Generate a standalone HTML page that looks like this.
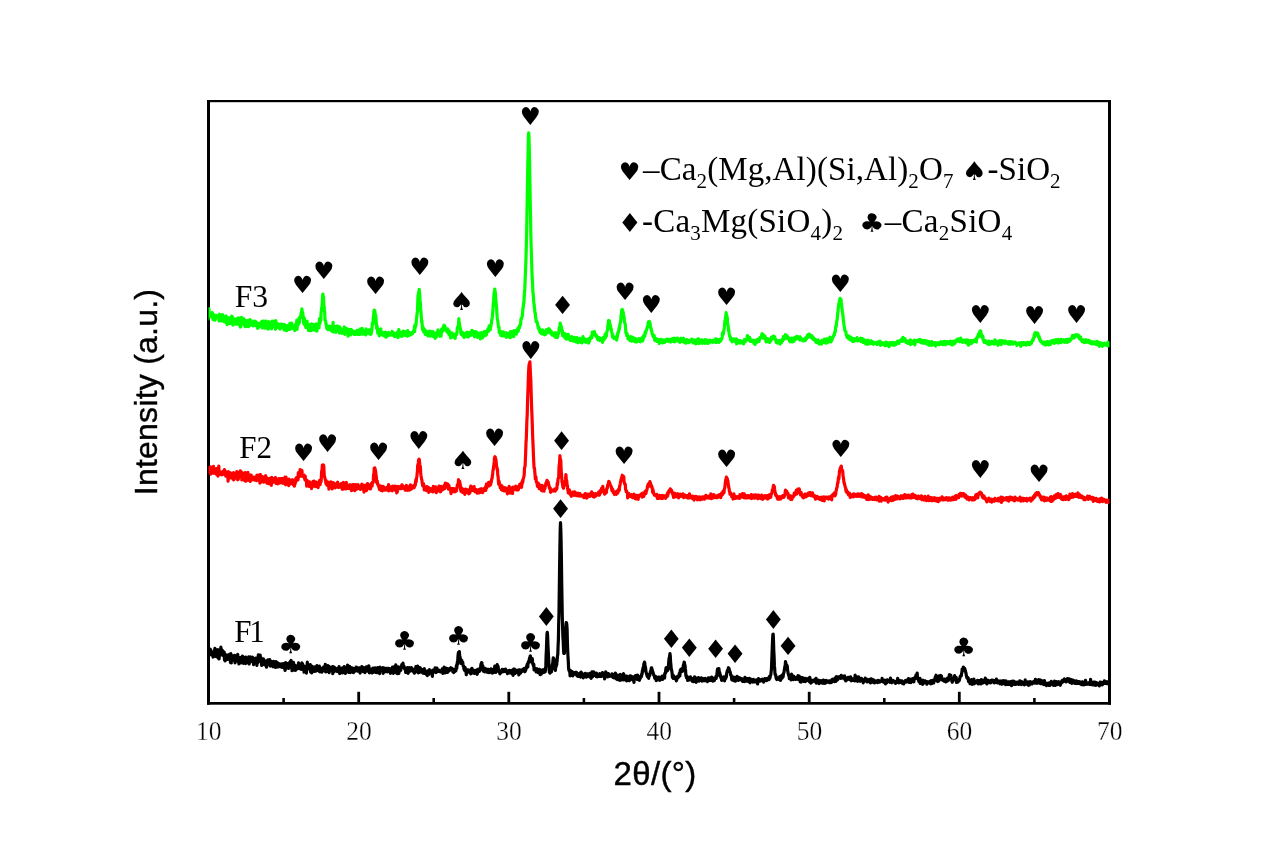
<!DOCTYPE html>
<html lang="en"><head><meta charset="utf-8"><title>XRD patterns F1 F2 F3</title>
<style>html,body{margin:0;padding:0;background:#fff;}body{width:1269px;height:846px;overflow:hidden;}svg{display:block;}.ser{font-family:"Liberation Serif","DejaVu Serif",serif;}.san{font-family:"Liberation Sans","DejaVu Sans",sans-serif;}.sym{font-family:"DejaVu Sans","Liberation Sans",sans-serif;}</style></head><body>
<svg width="1269" height="846" viewBox="0 0 1269 846">
<rect x="0" y="0" width="1269" height="846" fill="#ffffff"/>
<g fill="#000">
<rect x="207" y="100" width="3" height="604.7"/>
<rect x="1108" y="100" width="3" height="604.7"/>
<rect x="207" y="100" width="904" height="2.2"/>
<rect x="207" y="702" width="904" height="2.7"/>
<rect x="282.3" y="698" width="2.6" height="5"/>
<rect x="357.3" y="691.8" width="2.8" height="11"/>
<rect x="432.4" y="698" width="2.6" height="5"/>
<rect x="507.4" y="691.8" width="2.8" height="11"/>
<rect x="582.6" y="698" width="2.6" height="5"/>
<rect x="657.6" y="691.8" width="2.8" height="11"/>
<rect x="732.8" y="698" width="2.6" height="5"/>
<rect x="807.8" y="691.8" width="2.8" height="11"/>
<rect x="883.0" y="698" width="2.6" height="5"/>
<rect x="957.9" y="691.8" width="2.8" height="11"/>
<rect x="1033.1" y="698" width="2.6" height="5"/>
</g>
<defs><clipPath id="cp"><rect x="208.5" y="100" width="901" height="604"/></clipPath></defs>
<g clip-path="url(#cp)" fill="none" stroke-linejoin="round" stroke-linecap="round">
<polyline stroke="#00ff00" stroke-width="3.2" points="208.0,318.8 208.3,314.1 208.6,313.7 208.9,308.7 209.2,314.9 209.5,314.3 209.8,313.8 210.1,315.9 210.4,316.2 210.7,312.8 211.0,313.3 211.3,314.3 211.6,317.1 211.9,316.9 212.2,312.6 212.5,313.2 212.8,317.6 213.1,319.7 213.4,316.0 213.7,314.6 214.0,318.8 214.3,315.6 214.6,318.1 214.9,320.2 215.2,318.1 215.5,316.9 215.8,318.5 216.1,315.4 216.4,316.6 216.7,315.7 217.0,316.7 217.3,316.1 217.6,316.9 217.9,316.5 218.2,317.7 218.5,317.7 218.8,318.4 219.1,321.0 219.4,314.2 219.7,320.9 220.0,317.4 220.3,315.2 220.6,317.8 220.9,318.4 221.2,320.8 221.5,315.9 221.8,319.0 222.1,318.8 222.4,314.7 222.7,315.9 223.0,320.1 223.3,320.4 223.6,321.4 223.9,320.2 224.2,319.9 224.5,319.4 224.8,322.0 225.1,317.3 225.4,319.0 225.7,320.3 226.0,315.8 226.3,322.6 226.6,317.8 226.9,319.5 227.2,324.7 227.5,317.9 227.8,318.7 228.1,323.6 228.4,317.5 228.7,319.1 229.0,321.3 229.3,321.3 229.6,321.6 229.9,321.2 230.2,323.5 230.5,322.8 230.8,321.9 231.1,319.0 231.4,319.0 231.7,316.2 232.0,322.3 232.3,316.5 232.6,322.8 232.9,325.1 233.2,318.4 233.5,319.4 233.8,319.9 234.1,322.9 234.4,319.1 234.7,320.8 235.0,319.9 235.3,320.6 235.6,324.2 235.9,319.1 236.2,321.5 236.5,322.0 236.8,323.4 237.1,318.5 237.4,324.1 237.7,322.5 238.0,323.6 238.3,321.8 238.6,317.9 238.9,320.2 239.2,323.6 239.5,321.9 239.8,321.7 240.1,326.0 240.4,327.0 240.7,321.9 241.0,326.4 241.3,317.5 241.6,317.4 241.9,324.1 242.2,321.6 242.5,323.5 242.8,323.4 243.1,322.1 243.4,323.9 243.7,322.7 244.0,318.9 244.3,323.0 244.6,322.9 244.9,326.7 245.2,320.0 245.5,322.7 245.8,321.7 246.1,322.4 246.4,326.6 246.7,323.7 247.0,321.8 247.3,323.2 247.6,324.7 247.9,320.7 248.2,322.4 248.5,326.6 248.8,325.1 249.1,323.0 249.4,322.1 249.7,322.9 250.0,319.7 250.3,325.5 250.6,324.1 250.9,323.7 251.2,320.5 251.5,321.9 251.8,324.7 252.1,324.2 252.4,322.5 252.7,324.8 253.0,325.8 253.3,322.2 253.6,322.6 253.9,321.8 254.2,321.2 254.5,325.7 254.8,325.1 255.1,324.8 255.4,321.4 255.7,321.7 256.0,323.9 256.3,323.2 256.6,324.4 256.9,322.6 257.2,325.7 257.5,328.3 257.8,327.8 258.1,328.0 258.4,324.5 258.7,326.5 259.0,323.6 259.3,326.5 259.6,323.6 259.9,323.4 260.2,323.1 260.5,326.1 260.8,325.2 261.1,325.0 261.4,322.0 261.7,325.0 262.0,321.4 262.3,328.0 262.6,324.4 262.9,325.2 263.2,324.5 263.5,321.2 263.8,321.7 264.1,324.8 264.4,328.2 264.7,322.4 265.0,323.3 265.3,324.8 265.6,321.2 265.9,321.2 266.2,324.1 266.5,324.9 266.8,324.2 267.1,328.6 267.4,324.8 267.7,326.0 268.0,328.8 268.3,329.0 268.6,321.6 268.9,324.4 269.2,327.9 269.5,322.2 269.8,323.2 270.1,322.4 270.4,322.3 270.7,322.8 271.0,325.8 271.3,328.3 271.6,328.9 271.9,325.5 272.2,321.1 272.5,325.4 272.8,324.8 273.1,326.4 273.4,325.3 273.7,321.6 274.0,326.6 274.3,321.1 274.6,324.2 274.9,326.4 275.2,326.5 275.5,329.3 275.8,320.5 276.1,326.6 276.4,327.4 276.7,325.1 277.0,327.3 277.3,323.5 277.6,327.4 277.9,327.2 278.2,323.8 278.5,324.5 278.8,325.6 279.1,324.6 279.4,328.4 279.7,326.5 280.0,329.1 280.3,328.8 280.6,326.3 280.9,325.8 281.2,324.1 281.5,324.5 281.8,324.5 282.1,327.1 282.4,324.3 282.7,326.5 283.0,326.8 283.3,325.3 283.6,326.0 283.9,329.6 284.2,330.0 284.5,324.7 284.8,326.1 285.1,325.7 285.4,325.9 285.7,330.0 286.0,328.1 286.3,329.4 286.6,330.6 286.9,325.7 287.2,326.2 287.5,326.8 287.8,329.0 288.1,326.5 288.4,328.1 288.7,329.3 289.0,329.3 289.3,327.7 289.6,325.0 289.9,323.3 290.2,329.3 290.5,327.8 290.8,324.7 291.1,325.7 291.4,325.8 291.7,323.1 292.0,327.3 292.3,325.0 292.6,326.1 292.9,328.4 293.2,326.5 293.5,327.9 293.8,327.6 294.1,326.8 294.4,326.8 294.7,330.7 295.0,326.2 295.3,330.1 295.6,324.4 295.9,328.0 296.2,326.6 296.5,324.5 296.8,320.1 297.1,329.3 297.4,322.9 297.7,323.0 298.0,324.9 298.3,324.2 298.6,324.0 298.9,321.9 299.2,318.2 299.5,322.3 299.8,317.2 300.1,318.3 300.4,317.7 300.7,317.8 301.0,313.6 301.3,312.6 301.6,312.4 301.9,308.9 302.2,311.9 302.5,312.3 302.8,313.1 303.1,317.4 303.4,317.7 303.7,323.1 304.0,324.1 304.3,317.9 304.6,323.2 304.9,321.6 305.2,325.7 305.5,325.3 305.8,327.5 306.1,326.5 306.4,327.7 306.7,325.6 307.0,321.0 307.3,324.0 307.6,324.8 307.9,325.7 308.2,324.7 308.5,330.4 308.8,326.6 309.1,329.8 309.4,326.3 309.7,330.6 310.0,324.6 310.3,328.4 310.6,324.3 310.9,328.1 311.2,330.6 311.5,323.8 311.8,325.4 312.1,327.8 312.4,326.9 312.7,324.4 313.0,329.7 313.3,327.4 313.6,330.0 313.9,327.9 314.2,324.8 314.5,326.2 314.8,330.1 315.1,324.3 315.4,326.2 315.7,328.4 316.0,329.2 316.3,328.7 316.6,323.8 316.9,331.2 317.2,326.4 317.5,326.6 317.8,326.4 318.1,325.7 318.4,323.9 318.7,324.9 319.0,327.8 319.3,321.6 319.6,318.5 319.9,323.5 320.2,321.6 320.5,320.5 320.8,320.1 321.1,312.2 321.4,310.8 321.7,307.9 322.0,305.7 322.3,302.0 322.6,295.9 322.9,294.0 323.2,297.1 323.5,296.7 323.8,305.6 324.1,306.2 324.4,310.0 324.7,312.2 325.0,320.1 325.3,320.0 325.6,320.6 325.9,324.2 326.2,324.0 326.5,326.3 326.8,328.4 327.1,325.8 327.4,327.8 327.7,328.0 328.0,329.6 328.3,328.8 328.6,327.8 328.9,326.7 329.2,328.7 329.5,326.1 329.8,329.7 330.1,328.6 330.4,329.7 330.7,327.6 331.0,327.2 331.3,327.0 331.6,331.1 331.9,328.6 332.2,328.6 332.5,325.6 332.8,329.1 333.1,322.4 333.4,332.0 333.7,328.9 334.0,329.5 334.3,326.7 334.6,327.4 334.9,330.8 335.2,329.3 335.5,330.6 335.8,332.3 336.1,331.1 336.4,326.2 336.7,328.0 337.0,327.8 337.3,328.3 337.6,326.1 337.9,326.2 338.2,328.8 338.5,329.1 338.8,331.3 339.1,329.7 339.4,333.1 339.7,326.9 340.0,327.8 340.3,331.0 340.6,330.0 340.9,328.7 341.2,332.1 341.5,332.8 341.8,333.3 342.1,330.0 342.4,330.8 342.7,331.3 343.0,331.0 343.3,332.9 343.6,330.1 343.9,331.8 344.2,326.9 344.5,332.6 344.8,334.3 345.1,331.2 345.4,333.2 345.7,328.2 346.0,330.7 346.3,328.5 346.6,332.0 346.9,332.5 347.2,328.9 347.5,330.0 347.8,330.5 348.1,336.2 348.4,331.5 348.7,331.9 349.0,332.4 349.3,332.3 349.6,331.4 349.9,329.4 350.2,330.6 350.5,335.0 350.8,332.4 351.1,331.3 351.4,329.5 351.7,331.9 352.0,332.1 352.3,330.9 352.6,333.7 352.9,331.0 353.2,331.8 353.5,333.7 353.8,332.6 354.1,334.3 354.4,331.8 354.7,331.4 355.0,333.1 355.3,332.6 355.6,334.4 355.9,333.0 356.2,332.2 356.5,333.1 356.8,333.5 357.1,330.3 357.4,332.1 357.7,331.7 358.0,334.5 358.3,331.5 358.6,334.3 358.9,330.1 359.2,332.3 359.5,334.3 359.8,331.9 360.1,334.5 360.4,328.8 360.7,332.5 361.0,332.7 361.3,332.2 361.6,329.7 361.9,333.7 362.2,328.3 362.5,334.2 362.8,333.0 363.1,334.2 363.4,332.0 363.7,330.5 364.0,331.5 364.3,331.6 364.6,333.5 364.9,331.9 365.2,333.2 365.5,333.3 365.8,334.9 366.1,328.9 366.4,331.6 366.7,333.6 367.0,333.5 367.3,331.3 367.6,331.8 367.9,332.0 368.2,332.4 368.5,331.1 368.8,330.8 369.1,329.9 369.4,331.1 369.7,334.1 370.0,329.8 370.3,332.9 370.6,334.3 370.9,330.8 371.2,334.1 371.5,328.9 371.8,331.1 372.1,326.8 372.4,323.2 372.7,324.0 373.0,324.4 373.3,317.6 373.6,316.9 373.9,311.8 374.2,310.1 374.5,311.5 374.8,310.6 375.1,313.3 375.4,316.7 375.7,315.0 376.0,318.4 376.3,322.2 376.6,328.3 376.9,325.6 377.2,326.8 377.5,329.6 377.8,333.5 378.1,329.5 378.4,330.5 378.7,331.5 379.0,333.1 379.3,335.8 379.6,330.1 379.9,329.5 380.2,332.8 380.5,333.6 380.8,328.9 381.1,331.8 381.4,334.6 381.7,332.2 382.0,334.0 382.3,333.5 382.6,334.4 382.9,334.1 383.2,333.8 383.5,335.6 383.8,332.5 384.1,333.7 384.4,335.5 384.7,332.6 385.0,333.0 385.3,332.4 385.6,332.1 385.9,337.2 386.2,334.6 386.5,337.0 386.8,335.1 387.1,334.0 387.4,333.4 387.7,334.3 388.0,333.8 388.3,335.5 388.6,332.4 388.9,334.2 389.2,334.8 389.5,333.6 389.8,333.6 390.1,334.9 390.4,335.0 390.7,333.9 391.0,334.0 391.3,333.1 391.6,335.0 391.9,333.9 392.2,331.4 392.5,333.6 392.8,335.1 393.1,334.6 393.4,332.6 393.7,335.3 394.0,335.1 394.3,335.1 394.6,336.7 394.9,333.5 395.2,335.1 395.5,333.7 395.8,335.7 396.1,336.0 396.4,334.9 396.7,335.3 397.0,332.7 397.3,335.1 397.6,332.1 397.9,337.7 398.2,336.0 398.5,331.5 398.8,329.6 399.1,336.2 399.4,332.6 399.7,335.0 400.0,331.9 400.3,334.2 400.6,333.0 400.9,335.0 401.2,333.5 401.5,336.5 401.8,332.8 402.1,336.1 402.4,334.0 402.7,334.8 403.0,331.3 403.3,331.1 403.6,335.7 403.9,331.9 404.2,333.4 404.5,333.4 404.8,332.4 405.1,334.2 405.4,331.6 405.7,331.9 406.0,335.4 406.3,332.5 406.6,335.0 406.9,334.9 407.2,336.2 407.5,334.5 407.8,330.7 408.1,332.6 408.4,332.9 408.7,335.6 409.0,334.1 409.3,332.7 409.6,334.1 409.9,332.8 410.2,334.2 410.5,333.4 410.8,334.9 411.1,333.6 411.4,334.5 411.7,332.8 412.0,333.8 412.3,332.3 412.6,333.4 412.9,332.5 413.2,331.7 413.5,330.9 413.8,330.8 414.1,331.6 414.4,326.6 414.7,331.6 415.0,324.9 415.3,327.3 415.6,325.6 415.9,325.5 416.2,322.4 416.5,319.2 416.8,316.1 417.1,313.7 417.4,311.7 417.7,304.0 418.0,295.6 418.3,294.1 418.6,292.4 418.9,295.5 419.2,289.3 419.5,292.0 419.8,297.0 420.1,300.9 420.4,302.9 420.7,310.9 421.0,311.5 421.3,316.8 421.6,322.5 421.9,320.9 422.2,324.6 422.5,329.5 422.8,327.7 423.1,327.5 423.4,329.1 423.7,332.0 424.0,328.7 424.3,330.6 424.6,329.6 424.9,330.3 425.2,334.4 425.5,332.5 425.8,332.1 426.1,333.6 426.4,332.0 426.7,331.3 427.0,335.1 427.3,334.8 427.6,332.2 427.9,334.7 428.2,336.0 428.5,334.5 428.8,334.6 429.1,331.9 429.4,333.7 429.7,331.0 430.0,335.8 430.3,333.8 430.6,336.2 430.9,332.9 431.2,335.5 431.5,331.7 431.8,333.6 432.1,335.1 432.4,334.8 432.7,334.2 433.0,331.7 433.3,336.3 433.6,335.3 433.9,336.1 434.2,336.0 434.5,333.7 434.8,334.9 435.1,338.4 435.4,333.0 435.7,334.9 436.0,333.4 436.3,337.0 436.6,334.5 436.9,332.6 437.2,333.3 437.5,332.0 437.8,330.6 438.1,329.9 438.4,332.9 438.7,332.2 439.0,334.2 439.3,332.6 439.6,334.1 439.9,336.3 440.2,331.6 440.5,331.3 440.8,334.4 441.1,336.2 441.4,330.8 441.7,329.1 442.0,330.7 442.3,330.0 442.6,331.2 442.9,327.9 443.2,328.5 443.5,327.9 443.8,325.5 444.1,325.2 444.4,328.0 444.7,328.1 445.0,326.2 445.3,330.0 445.6,329.5 445.9,329.2 446.2,330.0 446.5,330.2 446.8,331.4 447.1,332.2 447.4,331.5 447.7,328.8 448.0,332.1 448.3,331.5 448.6,331.3 448.9,334.3 449.2,330.9 449.5,335.1 449.8,333.1 450.1,332.3 450.4,332.9 450.7,337.9 451.0,336.6 451.3,334.0 451.6,336.1 451.9,337.2 452.2,333.2 452.5,334.1 452.8,335.9 453.1,335.2 453.4,334.0 453.7,337.0 454.0,335.3 454.3,335.7 454.6,338.1 454.9,335.2 455.2,338.4 455.5,334.7 455.8,333.8 456.1,334.0 456.4,334.7 456.7,333.7 457.0,332.3 457.3,328.2 457.6,327.1 457.9,326.4 458.2,326.0 458.5,325.4 458.8,318.7 459.1,322.3 459.4,323.0 459.7,325.4 460.0,327.9 460.3,328.2 460.6,329.1 460.9,333.8 461.2,334.3 461.5,333.1 461.8,334.0 462.1,333.4 462.4,332.4 462.7,335.7 463.0,333.8 463.3,333.1 463.6,334.0 463.9,337.4 464.2,335.6 464.5,335.4 464.8,335.2 465.1,336.4 465.4,336.2 465.7,333.1 466.0,334.8 466.3,334.2 466.6,335.5 466.9,335.1 467.2,332.2 467.5,336.9 467.8,335.6 468.1,332.6 468.4,336.9 468.7,335.3 469.0,335.8 469.3,335.1 469.6,335.2 469.9,334.1 470.2,332.3 470.5,333.7 470.8,334.7 471.1,334.3 471.4,335.0 471.7,333.7 472.0,330.3 472.3,334.6 472.6,332.2 472.9,331.3 473.2,332.9 473.5,331.4 473.8,334.1 474.1,332.4 474.4,336.9 474.7,333.9 475.0,333.6 475.3,333.7 475.6,331.6 475.9,333.7 476.2,334.0 476.5,334.7 476.8,332.0 477.1,335.4 477.4,337.3 477.7,334.8 478.0,335.4 478.3,336.1 478.6,334.3 478.9,334.9 479.2,336.9 479.5,335.8 479.8,333.7 480.1,332.9 480.4,338.9 480.7,336.1 481.0,333.1 481.3,335.6 481.6,336.4 481.9,335.5 482.2,332.5 482.5,337.9 482.8,336.1 483.1,334.8 483.4,336.0 483.7,334.6 484.0,334.2 484.3,335.9 484.6,331.4 484.9,335.6 485.2,334.4 485.5,334.6 485.8,334.5 486.1,335.1 486.4,334.5 486.7,333.3 487.0,331.0 487.3,332.1 487.6,330.0 487.9,328.9 488.2,330.6 488.5,330.1 488.8,331.1 489.1,325.9 489.4,329.7 489.7,329.5 490.0,328.2 490.3,329.7 490.6,325.6 490.9,326.4 491.2,324.1 491.5,323.0 491.8,319.6 492.1,318.3 492.4,316.5 492.7,312.3 493.0,308.9 493.3,303.1 493.6,302.3 493.9,294.9 494.2,292.5 494.5,291.0 494.8,289.1 495.1,291.3 495.4,292.9 495.7,298.5 496.0,301.0 496.3,305.1 496.6,307.6 496.9,313.4 497.2,317.7 497.5,319.9 497.8,320.7 498.1,323.5 498.4,325.8 498.7,327.7 499.0,326.9 499.3,332.6 499.6,330.6 499.9,331.6 500.2,331.3 500.5,332.3 500.8,335.5 501.1,331.7 501.4,332.6 501.7,332.1 502.0,333.0 502.3,336.2 502.6,333.2 502.9,333.6 503.2,331.8 503.5,334.0 503.8,334.9 504.1,334.0 504.4,334.2 504.7,335.9 505.0,335.6 505.3,334.8 505.6,333.8 505.9,332.8 506.2,337.4 506.5,332.8 506.8,335.9 507.1,334.7 507.4,334.0 507.7,336.2 508.0,333.9 508.3,336.7 508.6,333.5 508.9,335.6 509.2,336.7 509.5,333.5 509.8,337.7 510.1,335.9 510.4,331.5 510.7,336.6 511.0,337.2 511.3,334.1 511.6,334.1 511.9,334.8 512.2,331.5 512.5,334.3 512.8,335.3 513.1,333.1 513.4,335.3 513.7,336.7 514.0,330.7 514.3,330.7 514.6,332.1 514.9,333.8 515.2,333.2 515.5,331.2 515.8,330.7 516.1,331.0 516.4,334.1 516.7,330.1 517.0,330.2 517.3,332.0 517.6,329.9 517.9,328.4 518.2,331.3 518.5,329.2 518.8,327.2 519.1,326.9 519.4,328.0 519.7,325.4 520.0,325.4 520.3,325.2 520.6,324.3 520.9,319.2 521.2,319.7 521.5,318.5 521.8,317.5 522.1,316.7 522.4,315.3 522.7,310.9 523.0,307.7 523.3,306.9 523.6,302.9 523.9,302.8 524.2,297.2 524.5,292.6 524.8,288.9 525.1,280.9 525.4,274.5 525.7,266.6 526.0,258.2 526.3,247.8 526.6,234.0 526.9,218.8 527.2,200.6 527.5,183.3 527.8,164.3 528.1,150.2 528.4,136.3 528.7,132.8 529.0,137.1 529.3,149.0 529.6,162.7 529.9,181.3 530.2,198.3 530.5,214.3 530.8,232.6 531.1,244.8 531.4,253.3 531.7,263.5 532.0,273.6 532.3,278.9 532.6,284.1 532.9,292.2 533.2,294.1 533.5,298.0 533.8,302.6 534.1,303.9 534.4,307.6 534.7,310.2 535.0,313.2 535.3,313.2 535.6,317.5 535.9,318.2 536.2,321.8 536.5,321.0 536.8,321.3 537.1,322.5 537.4,322.7 537.7,325.2 538.0,326.0 538.3,328.2 538.6,327.8 538.9,327.2 539.2,330.3 539.5,328.9 539.8,330.3 540.1,332.4 540.4,332.6 540.7,330.2 541.0,331.4 541.3,333.6 541.6,333.4 541.9,333.1 542.2,333.8 542.5,329.8 542.8,332.5 543.1,331.1 543.4,332.3 543.7,332.7 544.0,333.9 544.3,334.8 544.6,334.2 544.9,333.4 545.2,332.4 545.5,334.4 545.8,332.8 546.1,329.8 546.4,331.8 546.7,332.2 547.0,329.9 547.3,331.1 547.6,332.6 547.9,329.9 548.2,330.0 548.5,330.0 548.8,328.7 549.1,329.5 549.4,329.1 549.7,330.4 550.0,330.1 550.3,332.9 550.6,331.9 550.9,333.6 551.2,331.2 551.5,333.3 551.8,334.5 552.1,335.0 552.4,333.5 552.7,334.4 553.0,334.9 553.3,334.5 553.6,334.5 553.9,335.9 554.2,333.7 554.5,333.0 554.8,334.8 555.1,335.9 555.4,332.5 555.7,337.3 556.0,335.6 556.3,336.3 556.6,334.3 556.9,335.3 557.2,337.6 557.5,337.3 557.8,335.2 558.1,333.4 558.4,332.7 558.7,333.5 559.0,329.4 559.3,327.5 559.6,326.9 559.9,326.8 560.2,323.1 560.5,324.7 560.8,325.2 561.1,326.0 561.4,327.2 561.7,330.4 562.0,331.6 562.3,330.4 562.6,335.7 562.9,335.2 563.2,335.8 563.5,335.4 563.8,335.9 564.1,333.2 564.4,336.5 564.7,337.7 565.0,337.9 565.3,336.3 565.6,334.1 565.9,335.8 566.2,337.0 566.5,339.2 566.8,335.4 567.1,337.7 567.4,338.5 567.7,338.6 568.0,337.8 568.3,334.3 568.6,338.8 568.9,338.3 569.2,338.9 569.5,337.0 569.8,337.7 570.1,340.4 570.4,338.4 570.7,338.5 571.0,337.7 571.3,340.4 571.6,336.6 571.9,338.2 572.2,339.5 572.5,339.0 572.8,340.3 573.1,339.8 573.4,341.2 573.7,339.1 574.0,339.3 574.3,339.9 574.6,337.3 574.9,341.5 575.2,338.6 575.5,341.3 575.8,341.8 576.1,341.3 576.4,340.4 576.7,339.4 577.0,337.5 577.3,341.0 577.6,340.1 577.9,342.7 578.2,340.1 578.5,341.4 578.8,340.1 579.1,341.2 579.4,340.2 579.7,340.5 580.0,338.3 580.3,339.8 580.6,340.6 580.9,342.5 581.2,341.2 581.5,339.3 581.8,342.9 582.1,341.3 582.4,342.3 582.7,339.7 583.0,336.6 583.3,339.8 583.6,339.5 583.9,341.1 584.2,338.8 584.5,339.6 584.8,339.0 585.1,340.9 585.4,339.5 585.7,342.4 586.0,341.7 586.3,341.7 586.6,340.3 586.9,340.8 587.2,341.6 587.5,339.3 587.8,342.0 588.1,340.2 588.4,341.8 588.7,343.0 589.0,342.0 589.3,338.4 589.6,341.1 589.9,338.9 590.2,338.5 590.5,338.3 590.8,336.7 591.1,338.1 591.4,336.3 591.7,338.1 592.0,336.5 592.3,332.1 592.6,333.6 592.9,333.0 593.2,332.9 593.5,332.5 593.8,333.4 594.1,332.8 594.4,331.6 594.7,333.8 595.0,334.8 595.3,334.1 595.6,336.1 595.9,335.7 596.2,335.0 596.5,335.8 596.8,336.8 597.1,337.9 597.4,337.9 597.7,339.3 598.0,339.8 598.3,337.4 598.6,337.4 598.9,338.9 599.2,339.7 599.5,340.4 599.8,340.1 600.1,340.1 600.4,338.2 600.7,339.8 601.0,338.5 601.3,339.9 601.6,340.4 601.9,338.4 602.2,338.9 602.5,342.3 602.8,338.2 603.1,338.4 603.4,337.6 603.7,337.1 604.0,339.9 604.3,337.7 604.6,337.5 604.9,336.9 605.2,334.0 605.5,337.8 605.8,335.5 606.1,335.2 606.4,336.0 606.7,332.8 607.0,331.7 607.3,330.2 607.6,329.8 607.9,324.8 608.2,324.1 608.5,320.6 608.8,322.2 609.1,322.3 609.4,320.8 609.7,324.3 610.0,324.0 610.3,326.6 610.6,326.0 610.9,329.7 611.2,328.6 611.5,331.3 611.8,332.4 612.1,333.0 612.4,336.7 612.7,337.2 613.0,335.4 613.3,337.7 613.6,337.4 613.9,337.7 614.2,338.5 614.5,337.2 614.8,338.2 615.1,338.3 615.4,337.1 615.7,337.2 616.0,338.7 616.3,337.5 616.6,340.1 616.9,339.5 617.2,335.5 617.5,336.3 617.8,332.7 618.1,333.6 618.4,332.3 618.7,331.2 619.0,328.1 619.3,329.5 619.6,327.5 619.9,324.3 620.2,323.1 620.5,322.0 620.8,320.5 621.1,314.5 621.4,316.0 621.7,310.1 622.0,309.8 622.3,309.5 622.6,311.7 622.9,311.2 623.2,312.4 623.5,315.3 623.8,315.8 624.1,317.3 624.4,322.0 624.7,322.3 625.0,323.3 625.3,324.8 625.6,329.0 625.9,332.8 626.2,332.9 626.5,333.3 626.8,335.9 627.1,333.5 627.4,336.6 627.7,336.0 628.0,338.9 628.3,336.6 628.6,338.9 628.9,338.5 629.2,338.5 629.5,339.5 629.8,338.6 630.1,340.7 630.4,338.8 630.7,336.5 631.0,341.0 631.3,340.9 631.6,340.0 631.9,341.1 632.2,340.4 632.5,338.6 632.8,337.2 633.1,338.4 633.4,339.4 633.7,340.4 634.0,338.1 634.3,338.7 634.6,341.7 634.9,339.0 635.2,339.0 635.5,338.7 635.8,341.8 636.1,340.9 636.4,341.0 636.7,341.9 637.0,341.1 637.3,341.5 637.6,340.4 637.9,341.0 638.2,340.7 638.5,340.7 638.8,338.5 639.1,339.6 639.4,339.4 639.7,339.0 640.0,339.7 640.3,341.9 640.6,340.8 640.9,339.7 641.2,339.9 641.5,341.1 641.8,337.9 642.1,339.6 642.4,340.9 642.7,340.9 643.0,339.6 643.3,338.8 643.6,335.7 643.9,336.5 644.2,336.8 644.5,336.7 644.8,336.0 645.1,332.0 645.4,333.2 645.7,333.2 646.0,330.9 646.3,330.4 646.6,330.1 646.9,328.6 647.2,327.3 647.5,326.8 647.8,326.1 648.1,323.5 648.4,321.9 648.7,321.9 649.0,322.0 649.3,322.7 649.6,321.5 649.9,323.1 650.2,324.6 650.5,327.6 650.8,327.8 651.1,328.3 651.4,330.7 651.7,331.1 652.0,332.3 652.3,334.4 652.6,334.5 652.9,335.2 653.2,336.7 653.5,335.9 653.8,337.3 654.1,335.3 654.4,337.7 654.7,340.4 655.0,338.6 655.3,339.3 655.6,339.0 655.9,338.5 656.2,340.5 656.5,340.0 656.8,341.4 657.1,339.2 657.4,340.4 657.7,340.0 658.0,339.8 658.3,341.8 658.6,339.7 658.9,339.8 659.2,343.6 659.5,340.6 659.8,340.5 660.1,341.3 660.4,339.6 660.7,341.2 661.0,339.4 661.3,340.2 661.6,340.1 661.9,342.3 662.2,341.5 662.5,342.9 662.8,342.7 663.1,340.0 663.4,341.3 663.7,340.2 664.0,340.0 664.3,342.0 664.6,342.3 664.9,340.8 665.2,341.0 665.5,340.9 665.8,340.9 666.1,340.9 666.4,339.4 666.7,341.2 667.0,339.7 667.3,339.1 667.6,340.2 667.9,340.7 668.2,341.3 668.5,340.8 668.8,340.6 669.1,339.5 669.4,340.7 669.7,340.5 670.0,340.5 670.3,339.3 670.6,342.1 670.9,341.0 671.2,340.9 671.5,340.2 671.8,339.8 672.1,341.1 672.4,338.6 672.7,339.5 673.0,339.7 673.3,340.7 673.6,339.7 673.9,341.6 674.2,338.0 674.5,341.8 674.8,340.4 675.1,341.1 675.4,339.4 675.7,341.2 676.0,339.7 676.3,340.3 676.6,338.4 676.9,340.7 677.2,340.2 677.5,338.0 677.8,340.0 678.1,339.8 678.4,341.0 678.7,339.4 679.0,340.4 679.3,341.6 679.6,339.2 679.9,342.3 680.2,340.5 680.5,340.0 680.8,338.7 681.1,338.3 681.4,341.4 681.7,339.8 682.0,339.7 682.3,341.6 682.6,341.2 682.9,340.6 683.2,338.8 683.5,338.3 683.8,341.6 684.1,340.5 684.4,340.3 684.7,342.7 685.0,340.2 685.3,341.0 685.6,343.1 685.9,341.4 686.2,340.1 686.5,339.8 686.8,342.1 687.1,339.5 687.4,341.8 687.7,342.7 688.0,340.8 688.3,341.8 688.6,341.0 688.9,342.6 689.2,341.3 689.5,340.3 689.8,341.5 690.1,341.3 690.4,340.5 690.7,340.9 691.0,339.9 691.3,340.3 691.6,341.9 691.9,339.2 692.2,341.6 692.5,341.3 692.8,340.7 693.1,342.9 693.4,342.2 693.7,340.8 694.0,341.7 694.3,342.5 694.6,339.8 694.9,341.8 695.2,341.3 695.5,342.0 695.8,343.9 696.1,340.9 696.4,341.3 696.7,340.4 697.0,341.9 697.3,342.4 697.6,339.0 697.9,343.3 698.2,343.5 698.5,338.9 698.8,340.1 699.1,342.3 699.4,341.9 699.7,343.1 700.0,341.5 700.3,343.2 700.6,340.3 700.9,342.3 701.2,341.3 701.5,341.3 701.8,339.9 702.1,341.4 702.4,343.3 702.7,341.1 703.0,341.5 703.3,341.9 703.6,340.7 703.9,342.0 704.2,342.4 704.5,341.5 704.8,339.7 705.1,343.4 705.4,341.8 705.7,341.7 706.0,341.5 706.3,341.0 706.6,339.9 706.9,341.6 707.2,341.8 707.5,342.7 707.8,343.4 708.1,340.8 708.4,343.3 708.7,341.7 709.0,342.2 709.3,340.4 709.6,341.9 709.9,340.5 710.2,342.2 710.5,340.1 710.8,341.5 711.1,341.0 711.4,341.8 711.7,341.7 712.0,341.6 712.3,340.8 712.6,342.3 712.9,341.9 713.2,340.4 713.5,342.1 713.8,340.5 714.1,341.3 714.4,341.1 714.7,341.1 715.0,342.0 715.3,339.2 715.6,342.5 715.9,339.1 716.2,342.4 716.5,341.6 716.8,339.3 717.1,341.3 717.4,340.5 717.7,339.5 718.0,342.1 718.3,341.9 718.6,341.0 718.9,342.4 719.2,340.6 719.5,340.0 719.8,341.6 720.1,339.3 720.4,340.8 720.7,340.9 721.0,339.7 721.3,339.2 721.6,339.2 721.9,338.4 722.2,336.7 722.5,332.8 722.8,335.1 723.1,332.8 723.4,333.9 723.7,330.6 724.0,329.3 724.3,327.5 724.6,325.3 724.9,320.5 725.2,321.3 725.5,317.5 725.8,315.3 726.1,312.6 726.4,315.6 726.7,314.9 727.0,317.1 727.3,317.9 727.6,322.8 727.9,325.1 728.2,326.0 728.5,330.7 728.8,329.5 729.1,333.5 729.4,334.9 729.7,336.4 730.0,336.0 730.3,337.3 730.6,339.4 730.9,340.1 731.2,339.4 731.5,339.5 731.8,339.6 732.1,341.8 732.4,340.4 732.7,340.2 733.0,338.9 733.3,339.1 733.6,339.9 733.9,339.1 734.2,340.9 734.5,341.1 734.8,340.4 735.1,341.1 735.4,341.5 735.7,339.8 736.0,342.5 736.3,338.8 736.6,343.9 736.9,340.2 737.2,341.9 737.5,341.5 737.8,342.3 738.1,341.1 738.4,342.5 738.7,340.3 739.0,342.8 739.3,341.7 739.6,342.4 739.9,343.1 740.2,340.7 740.5,341.4 740.8,341.2 741.1,341.9 741.4,342.2 741.7,342.8 742.0,342.2 742.3,341.7 742.6,342.5 742.9,342.9 743.2,342.8 743.5,343.9 743.8,340.8 744.1,341.6 744.4,339.7 744.7,340.1 745.0,341.3 745.3,341.7 745.6,339.4 745.9,340.1 746.2,339.4 746.5,339.5 746.8,338.8 747.1,337.8 747.4,335.6 747.7,336.3 748.0,338.2 748.3,337.7 748.6,340.2 748.9,338.2 749.2,339.3 749.5,337.4 749.8,337.5 750.1,339.6 750.4,341.5 750.7,340.5 751.0,340.0 751.3,341.1 751.6,341.5 751.9,341.6 752.2,341.3 752.5,340.3 752.8,340.3 753.1,341.1 753.4,341.5 753.7,340.3 754.0,343.5 754.3,342.4 754.6,341.2 754.9,342.6 755.2,344.4 755.5,342.0 755.8,341.9 756.1,342.7 756.4,340.1 756.7,340.9 757.0,340.6 757.3,342.1 757.6,339.3 757.9,341.3 758.2,340.2 758.5,340.1 758.8,339.5 759.1,341.3 759.4,338.5 759.7,337.7 760.0,338.9 760.3,337.4 760.6,338.1 760.9,337.1 761.2,336.7 761.5,336.4 761.8,334.2 762.1,333.6 762.4,337.8 762.7,334.3 763.0,336.2 763.3,334.6 763.6,336.0 763.9,336.1 764.2,338.4 764.5,337.0 764.8,336.0 765.1,336.6 765.4,338.8 765.7,339.8 766.0,341.4 766.3,341.9 766.6,338.4 766.9,340.0 767.2,339.0 767.5,340.8 767.8,341.5 768.1,338.8 768.4,341.7 768.7,341.6 769.0,340.6 769.3,340.1 769.6,342.5 769.9,340.4 770.2,339.3 770.5,340.3 770.8,341.1 771.1,340.4 771.4,337.3 771.7,337.6 772.0,338.2 772.3,338.5 772.6,338.2 772.9,336.4 773.2,338.6 773.5,338.1 773.8,336.0 774.1,336.8 774.4,337.9 774.7,336.8 775.0,338.8 775.3,339.3 775.6,339.1 775.9,340.6 776.2,342.3 776.5,340.0 776.8,341.5 777.1,340.7 777.4,343.1 777.7,342.9 778.0,341.7 778.3,341.1 778.6,342.7 778.9,341.8 779.2,340.6 779.5,340.8 779.8,341.7 780.1,344.1 780.4,342.9 780.7,343.1 781.0,342.5 781.3,342.8 781.6,342.7 781.9,339.7 782.2,341.2 782.5,340.9 782.8,340.4 783.1,340.0 783.4,336.5 783.7,338.9 784.0,336.9 784.3,338.9 784.6,337.0 784.9,336.9 785.2,336.9 785.5,334.5 785.8,336.4 786.1,335.2 786.4,337.7 786.7,336.2 787.0,335.8 787.3,338.6 787.6,337.3 787.9,336.9 788.2,338.2 788.5,338.5 788.8,339.3 789.1,338.3 789.4,340.7 789.7,340.2 790.0,341.8 790.3,340.9 790.6,339.4 790.9,341.6 791.2,340.3 791.5,340.7 791.8,338.0 792.1,339.3 792.4,342.0 792.7,341.7 793.0,338.5 793.3,340.6 793.6,340.5 793.9,341.2 794.2,338.5 794.5,337.6 794.8,339.5 795.1,338.1 795.4,337.9 795.7,337.3 796.0,339.2 796.3,336.7 796.6,338.4 796.9,337.9 797.2,336.4 797.5,338.0 797.8,338.4 798.1,337.5 798.4,337.0 798.7,338.3 799.0,336.9 799.3,338.5 799.6,339.9 799.9,337.1 800.2,337.0 800.5,339.9 800.8,338.5 801.1,339.1 801.4,340.0 801.7,339.3 802.0,340.2 802.3,339.1 802.6,339.7 802.9,340.1 803.2,340.8 803.5,339.7 803.8,340.4 804.1,340.5 804.4,340.2 804.7,339.4 805.0,340.7 805.3,338.2 805.6,339.8 805.9,339.5 806.2,339.0 806.5,337.2 806.8,338.4 807.1,337.5 807.4,335.5 807.7,336.0 808.0,334.7 808.3,336.2 808.6,337.0 808.9,336.3 809.2,334.2 809.5,334.2 809.8,335.0 810.1,335.2 810.4,336.3 810.7,335.4 811.0,337.2 811.3,335.8 811.6,337.8 811.9,335.5 812.2,336.8 812.5,337.9 812.8,339.1 813.1,339.1 813.4,338.0 813.7,337.9 814.0,339.6 814.3,339.8 814.6,339.7 814.9,340.4 815.2,339.2 815.5,341.3 815.8,342.0 816.1,340.2 816.4,340.3 816.7,342.6 817.0,342.6 817.3,340.7 817.6,340.8 817.9,339.8 818.2,342.2 818.5,341.9 818.8,341.7 819.1,344.1 819.4,341.6 819.7,341.6 820.0,342.0 820.3,341.6 820.6,342.9 820.9,341.6 821.2,341.9 821.5,344.1 821.8,341.1 822.1,340.4 822.4,341.8 822.7,341.0 823.0,341.0 823.3,341.8 823.6,342.4 823.9,339.9 824.2,341.3 824.5,339.2 824.8,342.3 825.1,340.2 825.4,341.9 825.7,343.1 826.0,342.5 826.3,341.5 826.6,338.9 826.9,342.9 827.2,340.4 827.5,341.6 827.8,340.1 828.1,340.3 828.4,342.2 828.7,338.6 829.0,339.0 829.3,339.8 829.6,341.1 829.9,337.2 830.2,341.0 830.5,339.1 830.8,340.1 831.1,341.9 831.4,339.5 831.7,339.9 832.0,339.9 832.3,337.8 832.6,337.9 832.9,337.2 833.2,337.1 833.5,336.0 833.8,335.2 834.1,334.4 834.4,334.9 834.7,331.8 835.0,332.2 835.3,332.2 835.6,327.9 835.9,325.9 836.2,326.6 836.5,323.1 836.8,321.0 837.1,320.1 837.4,317.3 837.7,313.6 838.0,311.3 838.3,307.5 838.6,305.8 838.9,303.9 839.2,302.4 839.5,300.7 839.8,300.8 840.1,298.3 840.4,299.5 840.7,299.5 841.0,299.5 841.3,302.7 841.6,305.0 841.9,307.8 842.2,310.2 842.5,312.5 842.8,314.0 843.1,317.1 843.4,320.2 843.7,322.8 844.0,325.0 844.3,326.4 844.6,328.4 844.9,330.8 845.2,330.8 845.5,331.3 845.8,331.4 846.1,333.8 846.4,335.2 846.7,334.8 847.0,337.3 847.3,335.3 847.6,336.3 847.9,337.0 848.2,336.0 848.5,338.6 848.8,337.0 849.1,336.8 849.4,336.3 849.7,339.3 850.0,339.8 850.3,337.5 850.6,337.2 850.9,338.3 851.2,338.9 851.5,338.4 851.8,339.6 852.1,338.0 852.4,341.4 852.7,339.7 853.0,340.4 853.3,339.0 853.6,340.5 853.9,341.3 854.2,338.8 854.5,339.8 854.8,340.7 855.1,340.1 855.4,338.9 855.7,339.3 856.0,340.4 856.3,340.2 856.6,339.2 856.9,340.3 857.2,337.6 857.5,340.1 857.8,341.0 858.1,341.0 858.4,339.6 858.7,340.4 859.0,340.4 859.3,340.1 859.6,339.4 859.9,338.8 860.2,339.7 860.5,339.1 860.8,338.2 861.1,341.7 861.4,338.9 861.7,339.8 862.0,339.8 862.3,338.7 862.6,340.9 862.9,338.9 863.2,342.5 863.5,339.3 863.8,340.0 864.1,340.7 864.4,340.8 864.7,341.0 865.0,342.3 865.3,342.6 865.6,343.8 865.9,340.3 866.2,342.8 866.5,342.5 866.8,341.5 867.1,340.5 867.4,344.5 867.7,343.3 868.0,340.2 868.3,343.7 868.6,342.7 868.9,342.5 869.2,343.1 869.5,341.7 869.8,342.3 870.1,343.5 870.4,341.3 870.7,341.1 871.0,340.8 871.3,343.4 871.6,341.5 871.9,342.3 872.2,342.2 872.5,343.4 872.8,343.2 873.1,342.0 873.4,344.3 873.7,343.3 874.0,343.3 874.3,342.5 874.6,342.6 874.9,342.7 875.2,343.0 875.5,343.5 875.8,343.5 876.1,342.8 876.4,343.0 876.7,343.9 877.0,344.4 877.3,344.5 877.6,343.2 877.9,342.0 878.2,343.5 878.5,343.5 878.8,343.5 879.1,343.9 879.4,342.9 879.7,343.6 880.0,341.1 880.3,345.4 880.6,343.6 880.9,343.2 881.2,344.1 881.5,343.4 881.8,342.9 882.1,344.6 882.4,343.8 882.7,343.0 883.0,344.5 883.3,344.3 883.6,344.2 883.9,343.5 884.2,345.0 884.5,343.0 884.8,344.8 885.1,345.5 885.4,343.0 885.7,344.2 886.0,342.2 886.3,344.1 886.6,342.3 886.9,342.7 887.2,344.3 887.5,345.3 887.8,344.7 888.1,343.9 888.4,343.4 888.7,344.2 889.0,346.7 889.3,345.7 889.6,342.8 889.9,343.5 890.2,342.7 890.5,344.8 890.8,343.9 891.1,342.6 891.4,344.0 891.7,343.6 892.0,343.0 892.3,343.7 892.6,345.0 892.9,343.1 893.2,343.6 893.5,342.5 893.8,343.5 894.1,345.3 894.4,344.3 894.7,343.0 895.0,343.0 895.3,344.8 895.6,343.3 895.9,342.8 896.2,344.4 896.5,342.7 896.8,342.2 897.1,343.2 897.4,341.3 897.7,342.0 898.0,341.4 898.3,342.2 898.6,341.7 898.9,343.5 899.2,342.1 899.5,341.2 899.8,341.5 900.1,340.4 900.4,340.7 900.7,340.8 901.0,340.5 901.3,341.3 901.6,340.2 901.9,338.8 902.2,339.7 902.5,338.2 902.8,341.4 903.1,337.3 903.4,339.2 903.7,339.9 904.0,338.5 904.3,339.1 904.6,340.8 904.9,338.6 905.2,341.0 905.5,340.0 905.8,340.0 906.1,342.6 906.4,341.6 906.7,341.3 907.0,340.9 907.3,341.5 907.6,341.3 907.9,343.5 908.2,341.9 908.5,341.1 908.8,341.4 909.1,342.5 909.4,341.0 909.7,341.4 910.0,340.6 910.3,339.9 910.6,344.6 910.9,342.1 911.2,344.1 911.5,342.9 911.8,342.6 912.1,341.1 912.4,342.2 912.7,342.4 913.0,341.3 913.3,342.9 913.6,343.4 913.9,342.6 914.2,342.3 914.5,340.2 914.8,344.8 915.1,342.7 915.4,340.6 915.7,340.6 916.0,341.0 916.3,340.7 916.6,341.7 916.9,340.7 917.2,341.6 917.5,341.0 917.8,341.1 918.1,340.1 918.4,341.5 918.7,341.6 919.0,340.5 919.3,339.6 919.6,341.3 919.9,339.4 920.2,340.5 920.5,341.8 920.8,342.6 921.1,341.0 921.4,341.7 921.7,342.7 922.0,340.3 922.3,341.0 922.6,341.8 922.9,343.0 923.2,340.5 923.5,340.5 923.8,342.8 924.1,343.2 924.4,341.4 924.7,342.2 925.0,343.2 925.3,342.1 925.6,340.5 925.9,342.7 926.2,343.6 926.5,341.4 926.8,344.1 927.1,342.5 927.4,341.1 927.7,343.2 928.0,341.5 928.3,344.5 928.6,343.7 928.9,345.1 929.2,341.5 929.5,343.5 929.8,344.9 930.1,344.6 930.4,344.1 930.7,343.8 931.0,344.1 931.3,344.5 931.6,345.4 931.9,341.7 932.2,342.5 932.5,342.9 932.8,343.7 933.1,343.9 933.4,343.2 933.7,343.4 934.0,344.3 934.3,344.8 934.6,342.7 934.9,343.2 935.2,343.6 935.5,346.1 935.8,342.8 936.1,343.8 936.4,343.6 936.7,343.1 937.0,344.5 937.3,343.4 937.6,343.0 937.9,343.6 938.2,343.8 938.5,342.8 938.8,342.7 939.1,344.7 939.4,342.9 939.7,344.4 940.0,343.3 940.3,342.6 940.6,342.3 940.9,341.7 941.2,344.2 941.5,344.1 941.8,343.0 942.1,342.3 942.4,342.9 942.7,343.6 943.0,344.7 943.3,342.7 943.6,341.7 943.9,343.6 944.2,343.0 944.5,342.5 944.8,341.5 945.1,344.0 945.4,344.8 945.7,342.3 946.0,341.8 946.3,342.8 946.6,343.0 946.9,343.9 947.2,343.4 947.5,341.5 947.8,343.6 948.1,343.6 948.4,342.7 948.7,343.5 949.0,341.8 949.3,342.8 949.6,341.8 949.9,343.1 950.2,343.9 950.5,341.1 950.8,343.1 951.1,343.8 951.4,343.2 951.7,344.6 952.0,342.8 952.3,345.0 952.6,342.8 952.9,341.4 953.2,342.4 953.5,341.8 953.8,343.6 954.1,344.0 954.4,343.9 954.7,342.8 955.0,341.8 955.3,341.1 955.6,340.4 955.9,342.1 956.2,340.0 956.5,340.8 956.8,341.2 957.1,341.2 957.4,339.2 957.7,339.2 958.0,339.1 958.3,341.1 958.6,338.9 958.9,339.1 959.2,340.6 959.5,340.9 959.8,341.8 960.1,339.9 960.4,340.9 960.7,338.2 961.0,340.7 961.3,341.1 961.6,341.3 961.9,339.9 962.2,342.0 962.5,342.3 962.8,340.8 963.1,341.0 963.4,340.7 963.7,340.9 964.0,341.3 964.3,340.1 964.6,340.1 964.9,341.3 965.2,341.1 965.5,342.7 965.8,341.5 966.1,340.8 966.4,340.0 966.7,341.5 967.0,340.8 967.3,340.1 967.6,343.9 967.9,340.0 968.2,343.7 968.5,345.2 968.8,342.1 969.1,341.6 969.4,342.7 969.7,341.1 970.0,342.2 970.3,342.8 970.6,340.7 970.9,343.6 971.2,342.0 971.5,342.3 971.8,343.3 972.1,340.5 972.4,340.6 972.7,342.2 973.0,342.2 973.3,341.5 973.6,341.6 973.9,341.4 974.2,340.5 974.5,340.0 974.8,340.5 975.1,341.1 975.4,341.2 975.7,339.1 976.0,341.8 976.3,342.0 976.6,339.2 976.9,337.6 977.2,337.5 977.5,337.7 977.8,336.0 978.1,337.2 978.4,334.1 978.7,334.6 979.0,333.4 979.3,334.6 979.6,332.3 979.9,332.2 980.2,330.9 980.5,331.8 980.8,331.2 981.1,336.5 981.4,334.1 981.7,334.7 982.0,335.8 982.3,337.0 982.6,338.0 982.9,336.4 983.2,340.2 983.5,339.6 983.8,340.1 984.1,342.4 984.4,341.3 984.7,340.5 985.0,340.7 985.3,342.6 985.6,342.1 985.9,342.3 986.2,341.0 986.5,342.5 986.8,341.8 987.1,341.7 987.4,343.9 987.7,342.9 988.0,342.3 988.3,343.7 988.6,344.6 988.9,341.1 989.2,343.6 989.5,343.0 989.8,342.6 990.1,344.1 990.4,343.6 990.7,342.2 991.0,344.0 991.3,342.5 991.6,342.6 991.9,341.3 992.2,342.7 992.5,343.2 992.8,342.2 993.1,342.6 993.4,343.8 993.7,342.3 994.0,341.8 994.3,344.2 994.6,341.7 994.9,339.9 995.2,341.0 995.5,342.0 995.8,341.0 996.1,341.1 996.4,341.7 996.7,342.0 997.0,341.9 997.3,342.1 997.6,343.2 997.9,345.4 998.2,343.2 998.5,342.7 998.8,341.3 999.1,342.0 999.4,340.8 999.7,341.9 1000.0,340.8 1000.3,343.0 1000.6,344.0 1000.9,342.8 1001.2,344.6 1001.5,340.7 1001.8,342.8 1002.1,341.8 1002.4,342.1 1002.7,340.8 1003.0,341.9 1003.3,341.8 1003.6,341.2 1003.9,343.1 1004.2,342.8 1004.5,343.3 1004.8,341.5 1005.1,341.4 1005.4,341.0 1005.7,343.0 1006.0,343.2 1006.3,342.3 1006.6,341.6 1006.9,342.5 1007.2,342.9 1007.5,343.0 1007.8,342.3 1008.1,343.7 1008.4,344.0 1008.7,341.8 1009.0,343.1 1009.3,342.9 1009.6,341.5 1009.9,342.3 1010.2,343.2 1010.5,344.2 1010.8,342.3 1011.1,342.7 1011.4,342.9 1011.7,342.7 1012.0,341.7 1012.3,344.1 1012.6,343.0 1012.9,343.8 1013.2,344.0 1013.5,342.9 1013.8,342.4 1014.1,342.7 1014.4,342.9 1014.7,342.6 1015.0,343.2 1015.3,342.1 1015.6,343.1 1015.9,342.9 1016.2,343.8 1016.5,344.1 1016.8,345.4 1017.1,344.8 1017.4,344.3 1017.7,343.7 1018.0,343.7 1018.3,344.1 1018.6,343.5 1018.9,343.8 1019.2,342.9 1019.5,344.1 1019.8,342.8 1020.1,343.3 1020.4,343.2 1020.7,346.4 1021.0,343.9 1021.3,344.8 1021.6,342.6 1021.9,344.4 1022.2,343.5 1022.5,344.8 1022.8,343.4 1023.1,342.7 1023.4,344.6 1023.7,343.9 1024.0,342.5 1024.3,343.8 1024.6,342.9 1024.9,344.5 1025.2,343.9 1025.5,344.2 1025.8,342.9 1026.1,345.2 1026.4,343.2 1026.7,344.1 1027.0,343.5 1027.3,343.8 1027.6,342.5 1027.9,343.8 1028.2,344.1 1028.5,342.3 1028.8,344.6 1029.1,342.5 1029.4,342.8 1029.7,342.7 1030.0,344.4 1030.3,342.5 1030.6,342.4 1030.9,343.0 1031.2,342.5 1031.5,343.2 1031.8,341.3 1032.1,340.7 1032.4,340.1 1032.7,339.5 1033.0,340.5 1033.3,339.6 1033.6,338.1 1033.9,337.6 1034.2,334.8 1034.5,337.1 1034.8,336.0 1035.1,332.7 1035.4,333.6 1035.7,333.6 1036.0,334.7 1036.3,333.3 1036.6,334.3 1036.9,334.8 1037.2,334.3 1037.5,333.0 1037.8,333.2 1038.1,334.9 1038.4,336.7 1038.7,337.1 1039.0,336.1 1039.3,338.9 1039.6,337.9 1039.9,339.1 1040.2,341.1 1040.5,340.7 1040.8,340.6 1041.1,340.7 1041.4,341.9 1041.7,342.5 1042.0,342.3 1042.3,341.9 1042.6,343.3 1042.9,343.8 1043.2,342.0 1043.5,343.8 1043.8,342.6 1044.1,343.0 1044.4,344.3 1044.7,342.1 1045.0,343.2 1045.3,345.1 1045.6,344.8 1045.9,342.8 1046.2,342.2 1046.5,344.6 1046.8,343.5 1047.1,343.5 1047.4,341.6 1047.7,343.2 1048.0,341.5 1048.3,342.7 1048.6,344.8 1048.9,344.1 1049.2,344.4 1049.5,342.8 1049.8,343.1 1050.1,342.2 1050.4,344.5 1050.7,341.9 1051.0,340.9 1051.3,341.8 1051.6,343.3 1051.9,341.6 1052.2,342.2 1052.5,340.5 1052.8,341.2 1053.1,340.5 1053.4,340.6 1053.7,341.4 1054.0,342.1 1054.3,343.4 1054.6,342.0 1054.9,340.2 1055.2,340.2 1055.5,339.7 1055.8,341.0 1056.1,340.1 1056.4,340.8 1056.7,339.9 1057.0,342.5 1057.3,340.6 1057.6,341.7 1057.9,340.6 1058.2,343.1 1058.5,339.4 1058.8,341.4 1059.1,342.2 1059.4,340.8 1059.7,341.8 1060.0,340.8 1060.3,342.0 1060.6,340.9 1060.9,342.7 1061.2,339.4 1061.5,341.7 1061.8,340.5 1062.1,340.6 1062.4,341.6 1062.7,340.4 1063.0,340.3 1063.3,341.6 1063.6,339.9 1063.9,340.8 1064.2,342.1 1064.5,340.2 1064.8,342.3 1065.1,339.9 1065.4,341.3 1065.7,341.1 1066.0,339.6 1066.3,341.7 1066.6,339.5 1066.9,342.3 1067.2,342.4 1067.5,340.1 1067.8,340.8 1068.1,340.5 1068.4,339.1 1068.7,339.6 1069.0,340.3 1069.3,340.2 1069.6,341.3 1069.9,339.4 1070.2,339.1 1070.5,340.1 1070.8,340.0 1071.1,338.7 1071.4,338.9 1071.7,337.8 1072.0,337.9 1072.3,335.7 1072.6,335.7 1072.9,338.0 1073.2,336.2 1073.5,335.4 1073.8,336.7 1074.1,338.0 1074.4,336.7 1074.7,335.8 1075.0,335.3 1075.3,337.0 1075.6,336.8 1075.9,335.3 1076.2,334.7 1076.5,335.3 1076.8,335.9 1077.1,335.4 1077.4,335.2 1077.7,335.4 1078.0,334.8 1078.3,336.3 1078.6,337.2 1078.9,335.9 1079.2,336.7 1079.5,338.9 1079.8,337.4 1080.1,338.9 1080.4,337.7 1080.7,337.2 1081.0,339.7 1081.3,340.2 1081.6,340.0 1081.9,340.0 1082.2,341.6 1082.5,340.1 1082.8,339.7 1083.1,340.9 1083.4,341.8 1083.7,341.2 1084.0,342.0 1084.3,342.6 1084.6,340.3 1084.9,341.0 1085.2,340.9 1085.5,341.8 1085.8,339.7 1086.1,342.3 1086.4,340.0 1086.7,341.8 1087.0,341.1 1087.3,341.0 1087.6,342.1 1087.9,340.3 1088.2,342.2 1088.5,341.3 1088.8,340.3 1089.1,342.7 1089.4,340.6 1089.7,342.5 1090.0,341.5 1090.3,341.6 1090.6,343.4 1090.9,342.4 1091.2,342.0 1091.5,343.1 1091.8,341.9 1092.1,344.0 1092.4,341.9 1092.7,343.1 1093.0,342.1 1093.3,343.5 1093.6,342.0 1093.9,342.9 1094.2,343.8 1094.5,341.9 1094.8,343.1 1095.1,343.7 1095.4,342.9 1095.7,343.2 1096.0,344.3 1096.3,344.5 1096.6,342.2 1096.9,342.9 1097.2,341.3 1097.5,343.9 1097.8,344.6 1098.1,343.2 1098.4,342.9 1098.7,344.6 1099.0,343.7 1099.3,346.3 1099.6,345.8 1099.9,342.5 1100.2,345.1 1100.5,345.1 1100.8,345.2 1101.1,344.5 1101.4,343.1 1101.7,344.7 1102.0,344.1 1102.3,346.3 1102.6,345.2 1102.9,345.9 1103.2,343.6 1103.5,344.7 1103.8,344.4 1104.1,343.8 1104.4,344.2 1104.7,343.2 1105.0,344.8 1105.3,343.8 1105.6,344.8 1105.9,345.1 1106.2,344.5 1106.5,344.0 1106.8,345.5 1107.1,345.5 1107.4,344.3 1107.7,345.8 1108.0,342.2 1108.3,345.0 1108.6,345.3 1108.9,344.8 1109.2,343.2 1109.5,344.8 1109.8,345.8"/>
<polyline stroke="#ff0000" stroke-width="3.2" points="208.0,471.1 208.3,469.7 208.6,467.9 208.9,471.9 209.2,471.4 209.5,467.4 209.8,469.0 210.1,467.3 210.4,466.9 210.7,474.1 211.0,469.3 211.3,471.7 211.6,470.9 211.9,470.4 212.2,467.9 212.5,468.1 212.8,471.5 213.1,473.1 213.4,466.4 213.7,468.5 214.0,470.3 214.3,473.2 214.6,472.1 214.9,472.8 215.2,471.6 215.5,468.9 215.8,470.9 216.1,474.1 216.4,471.7 216.7,468.6 217.0,474.7 217.3,472.6 217.6,473.3 217.9,476.1 218.2,470.5 218.5,470.3 218.8,466.2 219.1,472.3 219.4,473.4 219.7,472.0 220.0,472.2 220.3,474.4 220.6,473.3 220.9,473.3 221.2,472.3 221.5,472.4 221.8,474.9 222.1,472.4 222.4,471.8 222.7,471.5 223.0,472.6 223.3,473.4 223.6,474.2 223.9,473.4 224.2,472.4 224.5,469.5 224.8,474.7 225.1,471.1 225.4,473.1 225.7,476.2 226.0,474.1 226.3,471.8 226.6,475.3 226.9,473.2 227.2,472.7 227.5,476.7 227.8,475.5 228.1,481.2 228.4,471.6 228.7,474.2 229.0,475.2 229.3,477.2 229.6,473.8 229.9,478.0 230.2,474.8 230.5,472.9 230.8,474.2 231.1,474.6 231.4,474.4 231.7,473.4 232.0,474.3 232.3,477.1 232.6,476.9 232.9,479.2 233.2,473.2 233.5,472.7 233.8,479.9 234.1,476.0 234.4,476.1 234.7,473.4 235.0,476.2 235.3,475.5 235.6,475.5 235.9,478.1 236.2,473.7 236.5,475.9 236.8,471.7 237.1,476.6 237.4,473.2 237.7,479.8 238.0,472.8 238.3,479.4 238.6,474.0 238.9,472.3 239.2,476.4 239.5,476.5 239.8,473.9 240.1,473.3 240.4,470.8 240.7,475.4 241.0,477.0 241.3,471.8 241.6,476.6 241.9,480.0 242.2,472.5 242.5,477.7 242.8,477.8 243.1,475.2 243.4,477.4 243.7,474.2 244.0,477.7 244.3,480.4 244.6,476.1 244.9,475.5 245.2,472.5 245.5,481.1 245.8,481.2 246.1,476.0 246.4,477.3 246.7,477.0 247.0,480.2 247.3,473.8 247.6,478.8 247.9,472.4 248.2,478.9 248.5,475.8 248.8,480.4 249.1,478.8 249.4,476.3 249.7,476.1 250.0,475.1 250.3,481.5 250.6,480.2 250.9,476.5 251.2,475.0 251.5,479.1 251.8,478.1 252.1,477.0 252.4,478.4 252.7,479.6 253.0,478.2 253.3,479.6 253.6,478.3 253.9,479.0 254.2,477.2 254.5,480.2 254.8,478.9 255.1,477.9 255.4,479.0 255.7,478.1 256.0,478.3 256.3,479.9 256.6,480.7 256.9,475.2 257.2,478.4 257.5,479.1 257.8,476.5 258.1,479.9 258.4,478.5 258.7,477.8 259.0,475.2 259.3,475.9 259.6,479.3 259.9,483.1 260.2,478.3 260.5,474.6 260.8,482.0 261.1,479.7 261.4,481.9 261.7,478.0 262.0,481.2 262.3,480.2 262.6,476.7 262.9,478.7 263.2,479.8 263.5,477.6 263.8,482.1 264.1,478.7 264.4,481.5 264.7,479.1 265.0,481.1 265.3,480.9 265.6,475.6 265.9,479.2 266.2,481.4 266.5,479.1 266.8,483.1 267.1,482.7 267.4,478.2 267.7,480.3 268.0,481.2 268.3,478.6 268.6,483.7 268.9,481.8 269.2,480.3 269.5,478.4 269.8,478.3 270.1,478.6 270.4,481.9 270.7,478.4 271.0,482.2 271.3,485.4 271.6,477.4 271.9,479.0 272.2,482.8 272.5,481.0 272.8,478.6 273.1,480.3 273.4,480.4 273.7,482.1 274.0,478.7 274.3,480.0 274.6,480.3 274.9,481.4 275.2,480.2 275.5,477.5 275.8,477.9 276.1,483.4 276.4,479.7 276.7,481.0 277.0,480.9 277.3,481.7 277.6,483.8 277.9,481.0 278.2,482.7 278.5,482.1 278.8,481.6 279.1,478.7 279.4,480.1 279.7,483.1 280.0,480.4 280.3,480.4 280.6,480.6 280.9,478.6 281.2,479.5 281.5,481.7 281.8,479.4 282.1,478.6 282.4,482.9 282.7,483.1 283.0,481.2 283.3,479.3 283.6,483.5 283.9,482.4 284.2,478.1 284.5,479.5 284.8,478.5 285.1,477.2 285.4,484.3 285.7,484.7 286.0,477.1 286.3,482.8 286.6,481.3 286.9,482.2 287.2,483.4 287.5,483.5 287.8,481.7 288.1,480.6 288.4,483.1 288.7,485.6 289.0,479.1 289.3,480.3 289.6,481.5 289.9,480.1 290.2,481.1 290.5,483.9 290.8,482.8 291.1,481.6 291.4,482.0 291.7,480.4 292.0,483.6 292.3,480.9 292.6,479.7 292.9,480.8 293.2,481.9 293.5,485.0 293.8,481.7 294.1,480.8 294.4,486.1 294.7,481.4 295.0,484.1 295.3,482.1 295.6,482.3 295.9,478.3 296.2,481.1 296.5,479.0 296.8,477.3 297.1,480.0 297.4,478.4 297.7,478.6 298.0,480.0 298.3,472.7 298.6,477.5 298.9,473.1 299.2,472.3 299.5,475.3 299.8,473.9 300.1,469.7 300.4,473.9 300.7,474.2 301.0,476.2 301.3,475.6 301.6,473.3 301.9,470.3 302.2,473.2 302.5,474.8 302.8,475.6 303.1,476.5 303.4,475.4 303.7,476.4 304.0,475.1 304.3,476.0 304.6,478.4 304.9,479.7 305.2,476.0 305.5,478.1 305.8,479.1 306.1,481.4 306.4,480.6 306.7,486.1 307.0,481.9 307.3,480.5 307.6,481.9 307.9,481.5 308.2,482.6 308.5,483.8 308.8,486.3 309.1,486.4 309.4,484.9 309.7,481.8 310.0,485.0 310.3,482.6 310.6,484.0 310.9,485.3 311.2,484.3 311.5,488.7 311.8,484.6 312.1,483.9 312.4,484.1 312.7,486.5 313.0,481.4 313.3,483.7 313.6,482.4 313.9,484.1 314.2,481.1 314.5,484.0 314.8,486.4 315.1,483.1 315.4,486.7 315.7,483.1 316.0,484.1 316.3,482.1 316.6,485.5 316.9,485.3 317.2,484.6 317.5,486.0 317.8,483.2 318.1,487.6 318.4,484.2 318.7,482.2 319.0,482.9 319.3,483.1 319.6,480.4 319.9,480.1 320.2,484.6 320.5,481.3 320.8,480.8 321.1,481.6 321.4,476.0 321.7,470.5 322.0,470.9 322.3,465.2 322.6,466.8 322.9,465.1 323.2,466.9 323.5,465.0 323.8,465.9 324.1,472.8 324.4,476.4 324.7,477.3 325.0,478.4 325.3,479.9 325.6,480.9 325.9,483.7 326.2,480.5 326.5,483.1 326.8,485.1 327.1,484.2 327.4,483.4 327.7,483.7 328.0,485.5 328.3,486.2 328.6,482.0 328.9,489.1 329.2,485.7 329.5,485.0 329.8,483.0 330.1,483.8 330.4,486.7 330.7,486.1 331.0,481.8 331.3,483.6 331.6,485.0 331.9,483.5 332.2,488.9 332.5,487.6 332.8,484.6 333.1,482.5 333.4,485.8 333.7,484.8 334.0,484.7 334.3,483.4 334.6,486.9 334.9,485.6 335.2,487.8 335.5,487.2 335.8,485.0 336.1,486.0 336.4,484.6 336.7,486.0 337.0,484.0 337.3,487.1 337.6,482.0 337.9,486.6 338.2,485.9 338.5,487.4 338.8,484.3 339.1,486.4 339.4,487.2 339.7,486.0 340.0,486.4 340.3,486.1 340.6,485.4 340.9,485.3 341.2,483.6 341.5,486.7 341.8,486.4 342.1,489.2 342.4,484.9 342.7,489.3 343.0,488.5 343.3,482.4 343.6,486.4 343.9,488.9 344.2,486.5 344.5,487.9 344.8,488.4 345.1,485.3 345.4,487.4 345.7,486.5 346.0,489.0 346.3,482.4 346.6,486.1 346.9,484.8 347.2,486.5 347.5,487.5 347.8,487.3 348.1,486.7 348.4,488.4 348.7,485.5 349.0,488.5 349.3,487.1 349.6,484.8 349.9,487.4 350.2,487.6 350.5,487.2 350.8,484.9 351.1,487.1 351.4,490.7 351.7,490.5 352.0,485.5 352.3,486.8 352.6,486.2 352.9,484.6 353.2,484.6 353.5,486.9 353.8,489.4 354.1,488.8 354.4,489.4 354.7,490.6 355.0,486.1 355.3,486.9 355.6,484.5 355.9,486.7 356.2,487.9 356.5,489.3 356.8,485.3 357.1,486.1 357.4,486.9 357.7,486.9 358.0,484.5 358.3,488.3 358.6,486.7 358.9,486.7 359.2,486.2 359.5,487.1 359.8,486.3 360.1,487.1 360.4,489.5 360.7,487.3 361.0,488.1 361.3,487.5 361.6,484.9 361.9,484.2 362.2,488.4 362.5,486.2 362.8,487.1 363.1,486.2 363.4,485.2 363.7,489.8 364.0,492.1 364.3,489.8 364.6,485.4 364.9,486.7 365.2,488.1 365.5,485.5 365.8,487.1 366.1,488.0 366.4,490.6 366.7,484.7 367.0,487.6 367.3,485.4 367.6,483.5 367.9,488.5 368.2,484.0 368.5,486.7 368.8,488.5 369.1,487.4 369.4,486.6 369.7,488.8 370.0,486.1 370.3,485.6 370.6,488.8 370.9,486.5 371.2,484.6 371.5,483.5 371.8,484.0 372.1,486.0 372.4,482.2 372.7,482.1 373.0,482.8 373.3,480.9 373.6,474.2 373.9,476.5 374.2,468.1 374.5,471.9 374.8,467.8 375.1,469.1 375.4,470.4 375.7,472.0 376.0,475.2 376.3,476.5 376.6,482.4 376.9,480.6 377.2,480.8 377.5,484.0 377.8,483.5 378.1,485.4 378.4,485.2 378.7,486.5 379.0,487.4 379.3,488.6 379.6,489.6 379.9,488.6 380.2,487.4 380.5,486.8 380.8,485.9 381.1,490.3 381.4,487.2 381.7,487.4 382.0,488.4 382.3,489.5 382.6,490.8 382.9,489.2 383.2,486.3 383.5,489.3 383.8,488.1 384.1,487.5 384.4,490.2 384.7,488.2 385.0,488.5 385.3,489.9 385.6,489.4 385.9,489.6 386.2,489.1 386.5,487.7 386.8,487.8 387.1,488.5 387.4,488.7 387.7,490.3 388.0,486.5 388.3,488.9 388.6,484.7 388.9,490.8 389.2,490.0 389.5,487.7 389.8,487.9 390.1,488.5 390.4,487.2 390.7,489.0 391.0,490.0 391.3,486.8 391.6,488.7 391.9,487.1 392.2,490.9 392.5,486.0 392.8,487.7 393.1,488.9 393.4,488.7 393.7,487.5 394.0,489.2 394.3,487.8 394.6,489.5 394.9,486.2 395.2,487.5 395.5,490.2 395.8,490.7 396.1,490.8 396.4,486.7 396.7,492.9 397.0,488.5 397.3,492.0 397.6,489.2 397.9,486.3 398.2,489.0 398.5,487.8 398.8,488.8 399.1,487.1 399.4,488.4 399.7,488.3 400.0,486.6 400.3,488.7 400.6,486.8 400.9,486.8 401.2,485.8 401.5,488.6 401.8,487.3 402.1,484.8 402.4,486.0 402.7,488.1 403.0,487.6 403.3,487.7 403.6,486.5 403.9,487.7 404.2,487.6 404.5,488.9 404.8,487.4 405.1,490.1 405.4,487.2 405.7,488.5 406.0,490.1 406.3,485.4 406.6,487.0 406.9,489.7 407.2,487.1 407.5,486.9 407.8,490.3 408.1,489.9 408.4,488.1 408.7,486.8 409.0,488.7 409.3,486.6 409.6,490.2 409.9,485.7 410.2,485.6 410.5,484.9 410.8,487.1 411.1,489.2 411.4,487.1 411.7,488.9 412.0,487.8 412.3,487.6 412.6,487.6 412.9,486.9 413.2,485.9 413.5,487.7 413.8,487.4 414.1,487.8 414.4,486.1 414.7,486.5 415.0,484.1 415.3,485.2 415.6,481.4 415.9,479.7 416.2,481.9 416.5,478.4 416.8,477.0 417.1,474.2 417.4,471.7 417.7,465.1 418.0,464.9 418.3,463.0 418.6,459.9 418.9,460.1 419.2,459.2 419.5,461.6 419.8,464.5 420.1,466.0 420.4,466.8 420.7,473.3 421.0,475.8 421.3,477.3 421.6,479.6 421.9,479.8 422.2,483.4 422.5,484.4 422.8,485.9 423.1,485.4 423.4,483.5 423.7,484.5 424.0,486.6 424.3,490.0 424.6,486.9 424.9,488.7 425.2,487.7 425.5,488.6 425.8,488.5 426.1,486.8 426.4,488.6 426.7,490.7 427.0,486.7 427.3,488.4 427.6,489.2 427.9,489.0 428.2,489.6 428.5,487.4 428.8,492.3 429.1,490.4 429.4,490.6 429.7,491.2 430.0,488.6 430.3,490.5 430.6,488.6 430.9,489.3 431.2,490.5 431.5,491.2 431.8,489.6 432.1,488.9 432.4,489.2 432.7,491.9 433.0,489.8 433.3,486.3 433.6,491.3 433.9,490.9 434.2,488.0 434.5,487.4 434.8,488.7 435.1,490.6 435.4,488.6 435.7,486.8 436.0,491.1 436.3,492.6 436.6,488.3 436.9,489.8 437.2,489.1 437.5,489.2 437.8,488.3 438.1,489.5 438.4,490.9 438.7,490.0 439.0,486.1 439.3,487.3 439.6,488.5 439.9,490.1 440.2,490.5 440.5,491.8 440.8,491.1 441.1,486.3 441.4,488.3 441.7,490.4 442.0,490.1 442.3,487.6 442.6,489.7 442.9,489.4 443.2,487.7 443.5,486.7 443.8,489.1 444.1,485.6 444.4,486.6 444.7,488.5 445.0,485.7 445.3,483.1 445.6,485.2 445.9,483.4 446.2,484.1 446.5,484.2 446.8,485.7 447.1,486.8 447.4,483.8 447.7,484.0 448.0,485.6 448.3,489.2 448.6,488.3 448.9,485.4 449.2,487.7 449.5,487.6 449.8,488.9 450.1,489.3 450.4,489.7 450.7,490.6 451.0,493.6 451.3,488.7 451.6,488.5 451.9,491.1 452.2,489.5 452.5,491.5 452.8,488.6 453.1,488.7 453.4,489.3 453.7,488.8 454.0,489.7 454.3,491.8 454.6,488.8 454.9,489.4 455.2,491.7 455.5,489.9 455.8,490.4 456.1,491.1 456.4,490.9 456.7,489.2 457.0,487.8 457.3,484.9 457.6,486.6 457.9,486.0 458.2,484.4 458.5,479.5 458.8,481.6 459.1,482.2 459.4,482.5 459.7,481.4 460.0,483.9 460.3,484.5 460.6,489.4 460.9,491.3 461.2,489.1 461.5,487.7 461.8,489.3 462.1,491.9 462.4,490.8 462.7,492.5 463.0,489.0 463.3,492.0 463.6,490.4 463.9,491.5 464.2,492.6 464.5,491.7 464.8,494.3 465.1,491.4 465.4,491.5 465.7,489.1 466.0,491.8 466.3,489.3 466.6,492.4 466.9,490.6 467.2,492.3 467.5,491.3 467.8,490.7 468.1,490.0 468.4,490.8 468.7,493.9 469.0,491.2 469.3,491.7 469.6,493.1 469.9,492.8 470.2,489.8 470.5,487.5 470.8,486.1 471.1,490.1 471.4,486.5 471.7,488.7 472.0,489.1 472.3,488.1 472.6,490.5 472.9,489.3 473.2,487.0 473.5,488.0 473.8,488.3 474.1,486.5 474.4,491.1 474.7,490.4 475.0,491.6 475.3,489.9 475.6,490.2 475.9,489.6 476.2,491.4 476.5,489.6 476.8,491.9 477.1,493.2 477.4,492.0 477.7,490.4 478.0,491.3 478.3,490.5 478.6,491.0 478.9,493.0 479.2,490.8 479.5,489.3 479.8,489.2 480.1,492.5 480.4,490.8 480.7,491.3 481.0,489.4 481.3,490.0 481.6,488.7 481.9,492.1 482.2,489.6 482.5,492.7 482.8,490.0 483.1,491.6 483.4,489.9 483.7,488.9 484.0,490.7 484.3,489.7 484.6,488.4 484.9,490.0 485.2,489.6 485.5,487.0 485.8,490.4 486.1,487.8 486.4,484.2 486.7,488.0 487.0,486.0 487.3,484.2 487.6,483.9 487.9,485.8 488.2,485.9 488.5,482.5 488.8,484.0 489.1,482.6 489.4,485.9 489.7,482.1 490.0,482.2 490.3,483.7 490.6,484.8 490.9,482.7 491.2,482.5 491.5,480.3 491.8,478.7 492.1,478.3 492.4,475.5 492.7,474.1 493.0,470.0 493.3,469.5 493.6,467.0 493.9,464.6 494.2,461.7 494.5,457.6 494.8,458.1 495.1,456.7 495.4,457.8 495.7,459.0 496.0,460.1 496.3,464.1 496.6,466.6 496.9,467.2 497.2,470.1 497.5,469.3 497.8,475.6 498.1,476.4 498.4,481.1 498.7,484.3 499.0,481.1 499.3,483.2 499.6,483.4 499.9,484.3 500.2,487.9 500.5,486.7 500.8,486.8 501.1,488.0 501.4,489.8 501.7,489.9 502.0,485.9 502.3,489.5 502.6,488.5 502.9,490.5 503.2,489.2 503.5,490.1 503.8,488.8 504.1,490.9 504.4,487.6 504.7,490.7 505.0,488.4 505.3,488.8 505.6,491.0 505.9,488.0 506.2,488.9 506.5,489.1 506.8,489.5 507.1,491.5 507.4,493.9 507.7,490.3 508.0,492.5 508.3,488.2 508.6,490.0 508.9,488.5 509.2,486.4 509.5,489.4 509.8,488.9 510.1,491.8 510.4,493.0 510.7,490.5 511.0,491.7 511.3,489.9 511.6,490.2 511.9,491.8 512.2,487.7 512.5,493.5 512.8,490.0 513.1,487.2 513.4,490.1 513.7,489.0 514.0,488.8 514.3,488.5 514.6,489.1 514.9,488.5 515.2,488.8 515.5,488.4 515.8,486.2 516.1,489.8 516.4,489.8 516.7,488.2 517.0,487.3 517.3,486.8 517.6,490.0 517.9,487.7 518.2,489.9 518.5,489.0 518.8,488.4 519.1,487.1 519.4,486.3 519.7,484.4 520.0,487.0 520.3,485.3 520.6,486.1 520.9,486.0 521.2,483.0 521.5,487.4 521.8,484.2 522.1,484.3 522.4,480.7 522.7,482.4 523.0,480.5 523.3,478.5 523.6,477.5 523.9,476.4 524.2,474.9 524.5,467.8 524.8,467.0 525.1,466.0 525.4,459.3 525.7,452.0 526.0,442.9 526.3,438.6 526.6,429.7 526.9,420.2 527.2,415.5 527.5,403.7 527.8,394.2 528.1,387.0 528.4,375.9 528.7,369.6 529.0,365.5 529.3,363.9 529.6,363.1 529.9,361.9 530.2,368.4 530.5,375.3 530.8,379.8 531.1,390.5 531.4,400.4 531.7,409.7 532.0,416.0 532.3,425.1 532.6,435.2 532.9,441.6 533.2,448.9 533.5,456.6 533.8,463.2 534.1,468.2 534.4,467.9 534.7,470.8 535.0,474.1 535.3,479.0 535.6,476.6 535.9,476.9 536.2,480.7 536.5,482.1 536.8,482.3 537.1,483.7 537.4,486.4 537.7,486.2 538.0,484.8 538.3,483.1 538.6,486.9 538.9,486.2 539.2,488.7 539.5,488.2 539.8,487.1 540.1,485.0 540.4,488.0 540.7,488.7 541.0,486.5 541.3,490.4 541.6,487.7 541.9,486.2 542.2,485.5 542.5,491.0 542.8,487.1 543.1,489.9 543.4,486.5 543.7,490.7 544.0,491.1 544.3,486.6 544.6,486.1 544.9,488.6 545.2,486.4 545.5,486.1 545.8,483.4 546.1,484.5 546.4,482.1 546.7,484.2 547.0,480.3 547.3,480.8 547.6,483.9 547.9,482.2 548.2,482.1 548.5,484.1 548.8,485.0 549.1,485.9 549.4,488.3 549.7,488.7 550.0,488.4 550.3,488.0 550.6,492.3 550.9,490.7 551.2,490.2 551.5,490.0 551.8,490.5 552.1,490.5 552.4,490.9 552.7,490.7 553.0,490.5 553.3,491.0 553.6,489.9 553.9,490.0 554.2,490.9 554.5,490.3 554.8,489.0 555.1,491.2 555.4,490.6 555.7,488.7 556.0,489.7 556.3,489.6 556.6,488.1 556.9,488.7 557.2,483.4 557.5,484.8 557.8,481.5 558.1,478.6 558.4,478.5 558.7,477.2 559.0,467.4 559.3,464.6 559.6,462.1 559.9,455.7 560.2,458.5 560.5,461.2 560.8,460.3 561.1,468.9 561.4,473.6 561.7,476.7 562.0,481.9 562.3,482.3 562.6,485.0 562.9,487.1 563.2,487.4 563.5,488.3 563.8,485.9 564.1,484.8 564.4,482.7 564.7,482.6 565.0,481.3 565.3,480.8 565.6,479.2 565.9,474.7 566.2,478.3 566.5,482.6 566.8,480.9 567.1,486.1 567.4,485.5 567.7,489.1 568.0,491.1 568.3,493.0 568.6,491.9 568.9,491.3 569.2,489.7 569.5,490.4 569.8,494.1 570.1,492.9 570.4,492.7 570.7,493.7 571.0,494.2 571.3,496.3 571.6,493.3 571.9,494.7 572.2,493.9 572.5,493.6 572.8,492.0 573.1,494.0 573.4,492.2 573.7,492.1 574.0,495.4 574.3,492.5 574.6,491.8 574.9,492.9 575.2,493.6 575.5,492.5 575.8,495.3 576.1,494.9 576.4,495.1 576.7,495.6 577.0,493.6 577.3,495.7 577.6,494.2 577.9,493.8 578.2,493.1 578.5,494.6 578.8,493.6 579.1,496.1 579.4,495.9 579.7,493.7 580.0,493.7 580.3,496.0 580.6,494.7 580.9,495.9 581.2,496.1 581.5,496.2 581.8,495.9 582.1,495.8 582.4,495.7 582.7,495.4 583.0,495.6 583.3,495.2 583.6,496.0 583.9,497.7 584.2,497.0 584.5,494.6 584.8,495.7 585.1,496.0 585.4,493.5 585.7,494.5 586.0,496.9 586.3,495.9 586.6,498.1 586.9,495.1 587.2,497.2 587.5,495.6 587.8,494.2 588.1,495.8 588.4,496.8 588.7,495.8 589.0,495.4 589.3,496.2 589.6,494.0 589.9,494.8 590.2,494.5 590.5,496.1 590.8,493.6 591.1,495.5 591.4,494.1 591.7,491.8 592.0,495.0 592.3,493.5 592.6,494.8 592.9,495.5 593.2,496.5 593.5,493.6 593.8,494.7 594.1,497.1 594.4,495.7 594.7,494.2 595.0,495.9 595.3,496.4 595.6,495.6 595.9,493.5 596.2,495.3 596.5,494.4 596.8,494.1 597.1,494.9 597.4,494.7 597.7,494.2 598.0,494.7 598.3,495.1 598.6,492.2 598.9,492.4 599.2,495.2 599.5,495.0 599.8,493.5 600.1,490.7 600.4,493.2 600.7,491.4 601.0,491.4 601.3,489.9 601.6,488.3 601.9,490.2 602.2,487.9 602.5,489.0 602.8,486.4 603.1,489.2 603.4,492.0 603.7,490.9 604.0,492.2 604.3,493.1 604.6,494.1 604.9,492.4 605.2,491.2 605.5,493.3 605.8,490.4 606.1,490.2 606.4,492.5 606.7,488.8 607.0,488.2 607.3,488.4 607.6,485.1 607.9,484.9 608.2,485.3 608.5,482.6 608.8,481.5 609.1,481.6 609.4,483.9 609.7,482.8 610.0,484.1 610.3,484.8 610.6,485.5 610.9,486.0 611.2,487.5 611.5,487.2 611.8,490.3 612.1,490.9 612.4,489.0 612.7,489.7 613.0,491.8 613.3,492.6 613.6,491.4 613.9,492.4 614.2,493.6 614.5,494.5 614.8,492.0 615.1,493.0 615.4,491.8 615.7,492.7 616.0,492.1 616.3,494.3 616.6,491.8 616.9,491.7 617.2,491.0 617.5,492.1 617.8,493.1 618.1,490.7 618.4,489.6 618.7,490.9 619.0,488.5 619.3,490.4 619.6,486.1 619.9,485.6 620.2,484.0 620.5,482.0 620.8,481.0 621.1,479.4 621.4,478.1 621.7,477.5 622.0,476.7 622.3,475.2 622.6,476.0 622.9,477.0 623.2,479.5 623.5,479.4 623.8,476.6 624.1,482.5 624.4,482.7 624.7,484.1 625.0,484.4 625.3,484.3 625.6,489.5 625.9,490.0 626.2,491.8 626.5,490.8 626.8,492.3 627.1,492.3 627.4,492.7 627.7,497.8 628.0,493.5 628.3,495.1 628.6,495.1 628.9,493.6 629.2,494.6 629.5,496.1 629.8,494.8 630.1,496.1 630.4,496.5 630.7,496.3 631.0,496.3 631.3,496.2 631.6,495.8 631.9,494.7 632.2,497.0 632.5,497.7 632.8,496.5 633.1,496.5 633.4,496.9 633.7,496.3 634.0,494.2 634.3,495.4 634.6,494.9 634.9,497.3 635.2,498.6 635.5,496.7 635.8,498.9 636.1,496.8 636.4,496.9 636.7,496.5 637.0,495.4 637.3,496.9 637.6,497.4 637.9,496.4 638.2,499.4 638.5,495.5 638.8,496.6 639.1,495.6 639.4,495.9 639.7,495.3 640.0,494.9 640.3,495.5 640.6,495.9 640.9,495.7 641.2,495.8 641.5,496.3 641.8,493.5 642.1,497.2 642.4,495.6 642.7,493.0 643.0,494.5 643.3,494.2 643.6,496.5 643.9,496.1 644.2,494.5 644.5,493.2 644.8,493.1 645.1,491.4 645.4,492.3 645.7,493.8 646.0,493.3 646.3,490.6 646.6,491.1 646.9,489.7 647.2,488.6 647.5,486.1 647.8,486.9 648.1,484.4 648.4,484.4 648.7,486.3 649.0,483.3 649.3,483.9 649.6,484.0 649.9,481.7 650.2,482.6 650.5,483.0 650.8,485.1 651.1,485.0 651.4,485.4 651.7,487.4 652.0,486.9 652.3,488.6 652.6,492.3 652.9,489.3 653.2,490.9 653.5,492.7 653.8,493.8 654.1,494.0 654.4,495.2 654.7,494.6 655.0,495.0 655.3,495.3 655.6,494.7 655.9,495.5 656.2,495.0 656.5,496.3 656.8,494.4 657.1,495.5 657.4,498.5 657.7,497.2 658.0,496.7 658.3,498.1 658.6,498.3 658.9,495.8 659.2,498.0 659.5,495.4 659.8,496.2 660.1,498.2 660.4,496.3 660.7,496.3 661.0,498.3 661.3,497.4 661.6,495.5 661.9,497.9 662.2,497.6 662.5,498.5 662.8,495.6 663.1,497.3 663.4,496.3 663.7,497.4 664.0,495.8 664.3,496.2 664.6,496.7 664.9,497.0 665.2,496.2 665.5,498.3 665.8,495.7 666.1,496.3 666.4,497.0 666.7,495.9 667.0,495.5 667.3,493.6 667.6,496.1 667.9,492.6 668.2,494.1 668.5,492.2 668.8,490.9 669.1,491.5 669.4,490.5 669.7,489.8 670.0,490.1 670.3,488.9 670.6,489.3 670.9,490.9 671.2,491.8 671.5,490.1 671.8,492.1 672.1,492.7 672.4,492.3 672.7,494.1 673.0,495.1 673.3,496.0 673.6,497.4 673.9,494.4 674.2,496.0 674.5,493.1 674.8,497.0 675.1,495.2 675.4,494.4 675.7,495.5 676.0,495.9 676.3,495.1 676.6,496.7 676.9,494.2 677.2,493.9 677.5,493.7 677.8,495.8 678.1,495.9 678.4,496.5 678.7,497.9 679.0,496.9 679.3,495.8 679.6,496.1 679.9,496.5 680.2,494.2 680.5,496.1 680.8,495.7 681.1,495.6 681.4,496.1 681.7,494.9 682.0,496.0 682.3,496.5 682.6,495.3 682.9,493.9 683.2,494.5 683.5,495.4 683.8,497.7 684.1,497.1 684.4,495.6 684.7,496.5 685.0,495.1 685.3,497.0 685.6,496.1 685.9,495.4 686.2,496.8 686.5,495.6 686.8,497.4 687.1,497.6 687.4,497.9 687.7,495.8 688.0,495.4 688.3,496.1 688.6,495.4 688.9,498.1 689.2,495.3 689.5,493.9 689.8,495.7 690.1,495.4 690.4,496.6 690.7,497.1 691.0,496.8 691.3,496.5 691.6,498.0 691.9,496.9 692.2,498.4 692.5,497.2 692.8,496.2 693.1,498.7 693.4,496.4 693.7,497.4 694.0,500.1 694.3,497.3 694.6,496.9 694.9,497.1 695.2,497.6 695.5,497.0 695.8,496.4 696.1,497.2 696.4,498.5 696.7,497.9 697.0,498.1 697.3,499.8 697.6,496.9 697.9,498.5 698.2,498.9 698.5,498.1 698.8,497.6 699.1,498.8 699.4,499.0 699.7,496.9 700.0,499.9 700.3,498.7 700.6,499.7 700.9,498.8 701.2,498.5 701.5,497.7 701.8,498.1 702.1,498.3 702.4,496.8 702.7,499.1 703.0,497.3 703.3,497.7 703.6,498.1 703.9,496.8 704.2,497.1 704.5,499.2 704.8,498.2 705.1,496.2 705.4,496.5 705.7,497.5 706.0,495.4 706.3,497.7 706.6,497.8 706.9,496.7 707.2,497.3 707.5,496.3 707.8,496.5 708.1,497.8 708.4,496.6 708.7,496.1 709.0,497.5 709.3,498.0 709.6,496.6 709.9,497.0 710.2,498.1 710.5,498.0 710.8,493.9 711.1,497.6 711.4,498.6 711.7,498.0 712.0,496.7 712.3,498.3 712.6,495.2 712.9,497.0 713.2,496.8 713.5,497.5 713.8,494.5 714.1,496.1 714.4,496.0 714.7,497.4 715.0,496.4 715.3,496.6 715.6,496.1 715.9,496.7 716.2,497.7 716.5,496.3 716.8,495.8 717.1,495.8 717.4,497.1 717.7,497.5 718.0,495.9 718.3,496.6 718.6,495.0 718.9,497.0 719.2,496.6 719.5,494.5 719.8,495.7 720.1,496.3 720.4,494.4 720.7,497.6 721.0,496.0 721.3,493.9 721.6,493.1 721.9,495.1 722.2,494.3 722.5,494.5 722.8,493.3 723.1,491.1 723.4,493.2 723.7,492.3 724.0,492.7 724.3,489.3 724.6,488.5 724.9,486.9 725.2,483.8 725.5,481.5 725.8,479.4 726.1,479.1 726.4,477.1 726.7,477.9 727.0,478.3 727.3,478.7 727.6,480.7 727.9,480.9 728.2,484.5 728.5,485.3 728.8,487.8 729.1,488.3 729.4,491.6 729.7,491.8 730.0,494.2 730.3,492.5 730.6,493.2 730.9,494.7 731.2,494.5 731.5,496.6 731.8,495.7 732.1,495.7 732.4,497.2 732.7,497.7 733.0,499.0 733.3,496.6 733.6,496.5 733.9,493.9 734.2,497.6 734.5,496.6 734.8,498.3 735.1,498.4 735.4,498.2 735.7,496.4 736.0,497.0 736.3,497.1 736.6,498.0 736.9,497.1 737.2,497.0 737.5,497.5 737.8,496.9 738.1,496.6 738.4,498.2 738.7,496.3 739.0,496.6 739.3,496.4 739.6,498.4 739.9,494.7 740.2,496.8 740.5,496.6 740.8,495.8 741.1,496.1 741.4,496.0 741.7,496.9 742.0,494.6 742.3,495.7 742.6,493.5 742.9,494.4 743.2,497.0 743.5,497.5 743.8,494.6 744.1,493.8 744.4,494.5 744.7,495.7 745.0,498.0 745.3,495.1 745.6,495.8 745.9,496.5 746.2,496.4 746.5,495.7 746.8,496.0 747.1,497.9 747.4,496.2 747.7,496.2 748.0,495.6 748.3,496.1 748.6,495.7 748.9,496.3 749.2,496.8 749.5,497.8 749.8,495.8 750.1,498.0 750.4,497.2 750.7,495.6 751.0,496.2 751.3,494.5 751.6,498.7 751.9,494.8 752.2,496.7 752.5,497.5 752.8,497.7 753.1,497.6 753.4,497.2 753.7,495.0 754.0,497.3 754.3,498.2 754.6,497.9 754.9,498.1 755.2,495.9 755.5,494.8 755.8,495.6 756.1,495.6 756.4,495.2 756.7,496.6 757.0,497.6 757.3,497.8 757.6,497.7 757.9,498.7 758.2,495.1 758.5,498.4 758.8,498.3 759.1,495.3 759.4,497.9 759.7,497.3 760.0,495.9 760.3,498.2 760.6,497.7 760.9,498.6 761.2,496.8 761.5,498.4 761.8,495.1 762.1,498.7 762.4,496.7 762.7,499.4 763.0,498.3 763.3,496.3 763.6,498.6 763.9,497.2 764.2,496.1 764.5,496.4 764.8,497.5 765.1,495.7 765.4,496.0 765.7,496.4 766.0,496.5 766.3,497.1 766.6,496.7 766.9,498.8 767.2,497.2 767.5,495.6 767.8,496.9 768.1,498.8 768.4,498.2 768.7,496.9 769.0,497.2 769.3,494.9 769.6,496.1 769.9,495.5 770.2,495.6 770.5,497.5 770.8,497.0 771.1,494.0 771.4,493.9 771.7,493.8 772.0,492.4 772.3,490.0 772.6,490.4 772.9,489.0 773.2,486.9 773.5,485.3 773.8,486.3 774.1,487.7 774.4,486.6 774.7,490.7 775.0,492.0 775.3,492.4 775.6,495.4 775.9,494.2 776.2,495.1 776.5,495.6 776.8,495.7 777.1,497.9 777.4,498.1 777.7,499.2 778.0,498.6 778.3,496.9 778.6,498.6 778.9,499.2 779.2,497.0 779.5,497.2 779.8,496.8 780.1,497.9 780.4,498.8 780.7,499.0 781.0,496.9 781.3,498.1 781.6,497.6 781.9,496.7 782.2,496.1 782.5,497.5 782.8,495.7 783.1,496.1 783.4,497.5 783.7,497.5 784.0,496.2 784.3,496.4 784.6,494.9 784.9,494.8 785.2,492.2 785.5,490.0 785.8,493.3 786.1,491.5 786.4,493.4 786.7,491.2 787.0,492.7 787.3,492.9 787.6,494.3 787.9,493.0 788.2,495.8 788.5,498.0 788.8,495.8 789.1,497.9 789.4,496.3 789.7,498.2 790.0,497.1 790.3,495.9 790.6,499.3 790.9,496.7 791.2,497.4 791.5,496.2 791.8,499.5 792.1,497.4 792.4,497.0 792.7,496.8 793.0,497.0 793.3,497.1 793.6,495.9 793.9,495.7 794.2,493.1 794.5,495.4 794.8,493.1 795.1,493.2 795.4,492.7 795.7,493.4 796.0,493.0 796.3,490.3 796.6,494.2 796.9,490.0 797.2,491.4 797.5,491.1 797.8,489.1 798.1,492.4 798.4,491.2 798.7,490.5 799.0,492.3 799.3,488.8 799.6,492.2 799.9,493.1 800.2,493.6 800.5,494.9 800.8,494.8 801.1,492.4 801.4,495.1 801.7,494.1 802.0,494.5 802.3,496.6 802.6,496.7 802.9,497.6 803.2,496.1 803.5,497.8 803.8,495.6 804.1,496.4 804.4,496.1 804.7,495.6 805.0,494.1 805.3,494.6 805.6,497.0 805.9,495.6 806.2,496.7 806.5,494.4 806.8,494.5 807.1,494.9 807.4,494.9 807.7,494.7 808.0,495.5 808.3,493.0 808.6,495.4 808.9,494.0 809.2,494.5 809.5,492.7 809.8,494.0 810.1,494.6 810.4,492.7 810.7,495.6 811.0,493.2 811.3,494.5 811.6,493.6 811.9,494.9 812.2,495.9 812.5,492.8 812.8,494.0 813.1,495.9 813.4,495.2 813.7,495.5 814.0,496.7 814.3,497.1 814.6,496.6 814.9,495.8 815.2,497.8 815.5,499.1 815.8,496.6 816.1,496.9 816.4,498.5 816.7,497.0 817.0,497.2 817.3,496.5 817.6,497.2 817.9,498.4 818.2,498.3 818.5,498.0 818.8,498.5 819.1,498.3 819.4,497.7 819.7,499.4 820.0,497.8 820.3,499.0 820.6,497.3 820.9,497.7 821.2,498.1 821.5,498.1 821.8,500.0 822.1,500.3 822.4,497.0 822.7,498.8 823.0,500.2 823.3,497.7 823.6,497.7 823.9,497.0 824.2,501.0 824.5,498.2 824.8,498.5 825.1,497.3 825.4,498.0 825.7,497.4 826.0,498.1 826.3,497.1 826.6,497.5 826.9,498.3 827.2,498.0 827.5,497.7 827.8,498.6 828.1,497.0 828.4,497.7 828.7,499.1 829.0,497.2 829.3,498.0 829.6,498.2 829.9,497.6 830.2,497.8 830.5,497.1 830.8,496.4 831.1,496.9 831.4,496.7 831.7,499.8 832.0,496.9 832.3,495.0 832.6,494.9 832.9,494.6 833.2,494.1 833.5,495.1 833.8,495.3 834.1,493.7 834.4,493.0 834.7,493.8 835.0,495.9 835.3,492.7 835.6,494.7 835.9,491.5 836.2,490.6 836.5,489.2 836.8,487.7 837.1,487.4 837.4,484.6 837.7,482.6 838.0,482.8 838.3,478.9 838.6,477.1 838.9,479.0 839.2,474.4 839.5,470.9 839.8,471.5 840.1,468.7 840.4,468.8 840.7,467.9 841.0,466.3 841.3,466.1 841.6,469.2 841.9,471.1 842.2,470.0 842.5,470.4 842.8,471.9 843.1,476.6 843.4,477.5 843.7,480.1 844.0,482.7 844.3,482.9 844.6,484.6 844.9,485.4 845.2,487.0 845.5,487.6 845.8,489.6 846.1,491.6 846.4,489.6 846.7,492.4 847.0,491.6 847.3,491.6 847.6,493.3 847.9,492.5 848.2,493.7 848.5,494.8 848.8,493.6 849.1,495.1 849.4,493.0 849.7,495.8 850.0,494.4 850.3,497.5 850.6,496.3 850.9,494.7 851.2,495.9 851.5,495.6 851.8,494.9 852.1,496.7 852.4,495.3 852.7,494.8 853.0,495.1 853.3,496.9 853.6,493.9 853.9,494.2 854.2,495.9 854.5,495.5 854.8,496.2 855.1,494.4 855.4,496.1 855.7,495.2 856.0,494.7 856.3,496.3 856.6,494.5 856.9,496.4 857.2,495.2 857.5,495.9 857.8,493.9 858.1,496.2 858.4,495.5 858.7,494.7 859.0,496.5 859.3,494.1 859.6,494.2 859.9,495.3 860.2,495.2 860.5,494.8 860.8,496.0 861.1,496.4 861.4,495.3 861.7,493.6 862.0,497.0 862.3,496.0 862.6,495.3 862.9,496.6 863.2,494.6 863.5,496.4 863.8,497.2 864.1,496.2 864.4,497.0 864.7,495.5 865.0,496.4 865.3,497.6 865.6,496.7 865.9,496.4 866.2,497.0 866.5,497.6 866.8,499.4 867.1,497.6 867.4,495.7 867.7,498.1 868.0,496.3 868.3,494.9 868.6,498.3 868.9,499.5 869.2,496.9 869.5,497.7 869.8,497.2 870.1,499.1 870.4,497.5 870.7,496.7 871.0,497.8 871.3,498.9 871.6,497.8 871.9,497.4 872.2,497.6 872.5,499.4 872.8,497.9 873.1,499.1 873.4,498.7 873.7,499.3 874.0,499.1 874.3,497.9 874.6,499.1 874.9,497.4 875.2,498.9 875.5,499.7 875.8,499.2 876.1,497.0 876.4,498.6 876.7,498.7 877.0,499.8 877.3,498.4 877.6,500.0 877.9,498.7 878.2,500.0 878.5,497.9 878.8,499.7 879.1,496.4 879.4,501.1 879.7,497.4 880.0,498.7 880.3,499.4 880.6,498.3 880.9,497.5 881.2,501.1 881.5,499.5 881.8,498.8 882.1,499.5 882.4,499.2 882.7,498.6 883.0,498.8 883.3,499.2 883.6,499.3 883.9,498.8 884.2,499.9 884.5,500.0 884.8,499.5 885.1,499.3 885.4,500.0 885.7,497.3 886.0,498.6 886.3,498.0 886.6,498.4 886.9,497.1 887.2,498.8 887.5,498.5 887.8,499.0 888.1,502.2 888.4,499.3 888.7,499.0 889.0,499.0 889.3,498.8 889.6,499.8 889.9,499.2 890.2,499.1 890.5,498.6 890.8,500.1 891.1,497.4 891.4,499.1 891.7,500.7 892.0,499.2 892.3,496.8 892.6,499.1 892.9,500.5 893.2,499.1 893.5,497.7 893.8,499.8 894.1,496.5 894.4,498.2 894.7,497.6 895.0,499.4 895.3,498.3 895.6,495.7 895.9,498.8 896.2,498.8 896.5,498.8 896.8,496.1 897.1,499.0 897.4,497.9 897.7,496.1 898.0,497.7 898.3,498.0 898.6,498.1 898.9,497.2 899.2,498.1 899.5,497.2 899.8,497.6 900.1,498.9 900.4,498.8 900.7,496.1 901.0,495.8 901.3,497.8 901.6,496.9 901.9,496.8 902.2,497.1 902.5,496.9 902.8,498.3 903.1,495.9 903.4,498.3 903.7,496.8 904.0,496.4 904.3,496.7 904.6,497.1 904.9,494.5 905.2,496.3 905.5,498.0 905.8,498.1 906.1,497.2 906.4,496.9 906.7,495.4 907.0,495.7 907.3,497.4 907.6,497.6 907.9,497.0 908.2,496.5 908.5,495.1 908.8,495.7 909.1,497.7 909.4,496.3 909.7,497.9 910.0,496.2 910.3,497.7 910.6,496.7 910.9,496.5 911.2,496.3 911.5,498.0 911.8,494.7 912.1,496.1 912.4,496.5 912.7,495.7 913.0,494.0 913.3,497.4 913.6,495.4 913.9,495.8 914.2,495.3 914.5,496.8 914.8,495.6 915.1,496.0 915.4,495.5 915.7,498.0 916.0,496.6 916.3,498.4 916.6,497.9 916.9,497.7 917.2,496.6 917.5,498.8 917.8,497.1 918.1,497.9 918.4,496.2 918.7,496.3 919.0,497.0 919.3,496.4 919.6,498.1 919.9,498.3 920.2,497.9 920.5,497.3 920.8,497.3 921.1,497.6 921.4,495.8 921.7,499.6 922.0,498.6 922.3,497.5 922.6,498.5 922.9,498.5 923.2,497.2 923.5,497.5 923.8,500.1 924.1,498.7 924.4,498.5 924.7,498.1 925.0,496.4 925.3,499.8 925.6,498.5 925.9,498.3 926.2,499.4 926.5,500.7 926.8,500.6 927.1,499.0 927.4,497.3 927.7,497.4 928.0,498.4 928.3,496.1 928.6,498.6 928.9,499.5 929.2,500.6 929.5,499.4 929.8,497.8 930.1,500.4 930.4,497.5 930.7,499.4 931.0,499.6 931.3,498.3 931.6,497.7 931.9,500.8 932.2,499.6 932.5,499.9 932.8,499.2 933.1,500.5 933.4,500.5 933.7,500.1 934.0,498.7 934.3,497.7 934.6,499.1 934.9,500.6 935.2,499.6 935.5,499.9 935.8,498.1 936.1,500.5 936.4,500.3 936.7,501.0 937.0,500.9 937.3,499.5 937.6,499.4 937.9,498.3 938.2,501.6 938.5,499.9 938.8,500.7 939.1,500.4 939.4,500.6 939.7,499.1 940.0,498.2 940.3,499.6 940.6,498.4 940.9,499.6 941.2,499.2 941.5,498.6 941.8,498.5 942.1,496.8 942.4,499.8 942.7,499.4 943.0,499.6 943.3,498.3 943.6,499.8 943.9,498.5 944.2,499.8 944.5,499.7 944.8,499.3 945.1,498.1 945.4,498.1 945.7,499.6 946.0,499.6 946.3,499.1 946.6,497.6 946.9,498.7 947.2,498.7 947.5,498.9 947.8,499.5 948.1,500.3 948.4,499.6 948.7,499.5 949.0,497.9 949.3,498.8 949.6,498.3 949.9,499.5 950.2,498.4 950.5,500.1 950.8,499.0 951.1,498.5 951.4,499.2 951.7,499.0 952.0,499.8 952.3,497.8 952.6,497.1 952.9,497.5 953.2,499.6 953.5,498.9 953.8,497.7 954.1,499.1 954.4,498.1 954.7,499.3 955.0,496.3 955.3,498.2 955.6,495.8 955.9,499.3 956.2,495.7 956.5,497.3 956.8,497.0 957.1,496.2 957.4,496.3 957.7,496.5 958.0,497.5 958.3,495.8 958.6,497.6 958.9,495.9 959.2,494.3 959.5,494.6 959.8,494.7 960.1,494.9 960.4,493.4 960.7,493.7 961.0,493.9 961.3,495.3 961.6,496.0 961.9,493.6 962.2,495.2 962.5,494.0 962.8,495.2 963.1,493.9 963.4,495.7 963.7,493.6 964.0,495.3 964.3,495.9 964.6,495.9 964.9,497.2 965.2,494.8 965.5,497.5 965.8,495.1 966.1,497.6 966.4,496.4 966.7,496.9 967.0,499.1 967.3,498.5 967.6,498.4 967.9,498.6 968.2,497.1 968.5,498.5 968.8,498.3 969.1,500.0 969.4,499.1 969.7,498.2 970.0,498.4 970.3,498.9 970.6,497.6 970.9,498.3 971.2,498.6 971.5,498.0 971.8,498.7 972.1,500.0 972.4,498.8 972.7,498.5 973.0,497.7 973.3,498.7 973.6,498.7 973.9,498.4 974.2,499.8 974.5,498.9 974.8,499.4 975.1,498.6 975.4,496.2 975.7,498.4 976.0,494.7 976.3,497.0 976.6,495.5 976.9,494.3 977.2,494.3 977.5,494.1 977.8,497.8 978.1,494.3 978.4,493.5 978.7,493.5 979.0,493.1 979.3,494.1 979.6,492.6 979.9,493.8 980.2,492.0 980.5,493.2 980.8,493.4 981.1,493.2 981.4,493.1 981.7,494.3 982.0,495.1 982.3,496.6 982.6,495.1 982.9,497.7 983.2,498.1 983.5,497.4 983.8,497.3 984.1,496.1 984.4,497.2 984.7,497.4 985.0,497.8 985.3,499.0 985.6,498.6 985.9,499.0 986.2,498.9 986.5,500.8 986.8,501.9 987.1,500.6 987.4,499.6 987.7,500.5 988.0,499.0 988.3,499.8 988.6,500.6 988.9,498.2 989.2,499.5 989.5,498.7 989.8,501.4 990.1,501.3 990.4,499.0 990.7,499.2 991.0,500.0 991.3,501.7 991.6,502.1 991.9,499.4 992.2,500.4 992.5,499.7 992.8,500.3 993.1,499.7 993.4,501.1 993.7,499.7 994.0,499.7 994.3,500.3 994.6,501.0 994.9,498.4 995.2,499.6 995.5,499.6 995.8,499.3 996.1,500.3 996.4,500.3 996.7,500.5 997.0,500.1 997.3,499.9 997.6,500.2 997.9,500.7 998.2,498.4 998.5,500.9 998.8,500.0 999.1,498.6 999.4,498.7 999.7,498.2 1000.0,499.8 1000.3,501.1 1000.6,498.5 1000.9,497.2 1001.2,499.3 1001.5,502.5 1001.8,497.3 1002.1,499.6 1002.4,497.4 1002.7,499.1 1003.0,498.5 1003.3,500.3 1003.6,498.0 1003.9,498.3 1004.2,499.2 1004.5,498.8 1004.8,498.5 1005.1,499.3 1005.4,498.1 1005.7,499.3 1006.0,498.7 1006.3,499.9 1006.6,497.7 1006.9,498.5 1007.2,500.1 1007.5,499.1 1007.8,497.9 1008.1,498.2 1008.4,498.0 1008.7,501.2 1009.0,498.0 1009.3,497.9 1009.6,497.2 1009.9,498.8 1010.2,499.7 1010.5,498.9 1010.8,497.2 1011.1,499.3 1011.4,497.3 1011.7,499.6 1012.0,497.7 1012.3,497.8 1012.6,499.3 1012.9,499.0 1013.2,499.9 1013.5,499.3 1013.8,500.5 1014.1,499.8 1014.4,500.7 1014.7,500.8 1015.0,497.1 1015.3,497.5 1015.6,498.7 1015.9,499.5 1016.2,499.2 1016.5,498.9 1016.8,499.7 1017.1,498.6 1017.4,498.9 1017.7,499.9 1018.0,500.2 1018.3,500.0 1018.6,499.9 1018.9,498.5 1019.2,498.6 1019.5,499.9 1019.8,499.2 1020.1,497.2 1020.4,500.1 1020.7,501.0 1021.0,500.4 1021.3,499.0 1021.6,500.9 1021.9,498.5 1022.2,500.6 1022.5,499.4 1022.8,498.8 1023.1,498.3 1023.4,500.8 1023.7,498.9 1024.0,500.3 1024.3,499.3 1024.6,498.8 1024.9,500.2 1025.2,498.7 1025.5,500.0 1025.8,500.3 1026.1,499.7 1026.4,498.6 1026.7,498.4 1027.0,501.1 1027.3,500.1 1027.6,500.0 1027.9,499.5 1028.2,499.8 1028.5,498.9 1028.8,499.4 1029.1,499.3 1029.4,498.9 1029.7,499.2 1030.0,498.2 1030.3,498.9 1030.6,499.2 1030.9,501.1 1031.2,498.3 1031.5,500.5 1031.8,499.1 1032.1,499.9 1032.4,498.0 1032.7,498.1 1033.0,498.7 1033.3,496.6 1033.6,498.2 1033.9,497.4 1034.2,496.9 1034.5,495.2 1034.8,497.0 1035.1,495.9 1035.4,493.8 1035.7,495.2 1036.0,495.0 1036.3,493.2 1036.6,494.5 1036.9,492.7 1037.2,494.3 1037.5,494.6 1037.8,494.3 1038.1,494.9 1038.4,492.6 1038.7,494.2 1039.0,493.6 1039.3,495.0 1039.6,495.2 1039.9,495.3 1040.2,497.0 1040.5,497.7 1040.8,497.9 1041.1,497.1 1041.4,499.6 1041.7,499.9 1042.0,499.6 1042.3,497.0 1042.6,499.4 1042.9,499.2 1043.2,499.1 1043.5,499.5 1043.8,497.1 1044.1,498.0 1044.4,500.9 1044.7,498.2 1045.0,500.1 1045.3,498.8 1045.6,498.0 1045.9,500.5 1046.2,498.7 1046.5,498.2 1046.8,498.8 1047.1,497.9 1047.4,500.1 1047.7,498.7 1048.0,499.6 1048.3,499.2 1048.6,499.9 1048.9,499.0 1049.2,499.8 1049.5,500.2 1049.8,498.4 1050.1,500.5 1050.4,497.1 1050.7,501.5 1051.0,499.5 1051.3,496.6 1051.6,500.1 1051.9,501.3 1052.2,498.2 1052.5,500.7 1052.8,497.8 1053.1,500.1 1053.4,499.6 1053.7,498.4 1054.0,496.9 1054.3,496.0 1054.6,498.1 1054.9,497.7 1055.2,496.4 1055.5,498.3 1055.8,496.5 1056.1,494.6 1056.4,495.7 1056.7,495.7 1057.0,494.5 1057.3,497.3 1057.6,497.4 1057.9,495.7 1058.2,493.5 1058.5,495.7 1058.8,496.4 1059.1,496.6 1059.4,495.5 1059.7,496.2 1060.0,497.5 1060.3,497.1 1060.6,494.6 1060.9,496.9 1061.2,496.1 1061.5,499.0 1061.8,497.2 1062.1,499.3 1062.4,498.2 1062.7,498.4 1063.0,497.6 1063.3,498.0 1063.6,499.6 1063.9,496.9 1064.2,498.4 1064.5,497.8 1064.8,498.4 1065.1,496.6 1065.4,497.6 1065.7,498.1 1066.0,499.4 1066.3,495.8 1066.6,498.3 1066.9,497.2 1067.2,497.1 1067.5,497.7 1067.8,496.8 1068.1,498.0 1068.4,497.4 1068.7,499.7 1069.0,496.4 1069.3,498.8 1069.6,497.8 1069.9,494.2 1070.2,497.4 1070.5,495.1 1070.8,496.5 1071.1,497.4 1071.4,496.6 1071.7,496.2 1072.0,495.4 1072.3,497.1 1072.6,493.6 1072.9,495.8 1073.2,497.1 1073.5,496.0 1073.8,494.9 1074.1,494.7 1074.4,496.0 1074.7,496.2 1075.0,494.7 1075.3,496.3 1075.6,494.0 1075.9,494.6 1076.2,494.4 1076.5,496.4 1076.8,495.9 1077.1,494.9 1077.4,495.1 1077.7,493.9 1078.0,493.0 1078.3,495.6 1078.6,497.3 1078.9,494.8 1079.2,494.4 1079.5,497.0 1079.8,496.8 1080.1,496.6 1080.4,495.2 1080.7,497.4 1081.0,497.3 1081.3,497.6 1081.6,497.1 1081.9,496.1 1082.2,498.0 1082.5,496.5 1082.8,497.2 1083.1,497.1 1083.4,497.0 1083.7,497.2 1084.0,499.7 1084.3,497.6 1084.6,498.3 1084.9,497.7 1085.2,498.4 1085.5,499.6 1085.8,499.0 1086.1,498.5 1086.4,498.1 1086.7,498.1 1087.0,497.9 1087.3,498.2 1087.6,496.2 1087.9,497.1 1088.2,499.3 1088.5,497.7 1088.8,497.8 1089.1,498.4 1089.4,498.6 1089.7,496.3 1090.0,497.8 1090.3,498.4 1090.6,497.8 1090.9,498.8 1091.2,498.7 1091.5,497.7 1091.8,499.2 1092.1,499.3 1092.4,497.4 1092.7,498.8 1093.0,499.5 1093.3,501.4 1093.6,499.0 1093.9,498.0 1094.2,500.5 1094.5,499.3 1094.8,500.0 1095.1,499.2 1095.4,500.0 1095.7,500.3 1096.0,500.5 1096.3,498.4 1096.6,499.8 1096.9,501.0 1097.2,500.7 1097.5,501.0 1097.8,501.5 1098.1,501.6 1098.4,500.3 1098.7,499.5 1099.0,500.5 1099.3,499.0 1099.6,502.0 1099.9,498.8 1100.2,500.2 1100.5,500.2 1100.8,500.9 1101.1,499.4 1101.4,500.9 1101.7,498.2 1102.0,499.8 1102.3,501.6 1102.6,500.7 1102.9,499.2 1103.2,501.0 1103.5,499.4 1103.8,500.0 1104.1,501.0 1104.4,500.1 1104.7,499.9 1105.0,500.6 1105.3,500.5 1105.6,500.9 1105.9,501.1 1106.2,502.3 1106.5,500.1 1106.8,502.2 1107.1,500.3 1107.4,500.6 1107.7,501.9 1108.0,500.4 1108.3,501.9 1108.6,502.3 1108.9,500.5 1109.2,500.9 1109.5,501.0 1109.8,501.6"/>
<polyline stroke="#000000" stroke-width="3.2" points="208.0,650.7 208.3,652.5 208.6,651.8 208.9,647.9 209.2,654.7 209.5,653.5 209.8,651.9 210.1,650.3 210.4,653.7 210.7,649.6 211.0,652.9 211.3,654.7 211.6,653.1 211.9,651.8 212.2,652.0 212.5,652.3 212.8,655.8 213.1,657.0 213.4,653.6 213.7,653.2 214.0,652.1 214.3,650.9 214.6,652.5 214.9,648.3 215.2,651.7 215.5,654.9 215.8,656.5 216.1,649.7 216.4,652.9 216.7,656.9 217.0,654.0 217.3,653.8 217.6,655.3 217.9,649.6 218.2,653.9 218.5,658.4 218.8,652.8 219.1,658.8 219.4,654.9 219.7,655.5 220.0,654.5 220.3,654.7 220.6,652.3 220.9,647.2 221.2,654.9 221.5,649.4 221.8,652.6 222.1,651.8 222.4,654.9 222.7,650.7 223.0,651.1 223.3,654.2 223.6,655.9 223.9,654.8 224.2,652.1 224.5,660.0 224.8,655.7 225.1,661.0 225.4,656.4 225.7,660.1 226.0,654.8 226.3,655.8 226.6,657.8 226.9,656.8 227.2,655.5 227.5,659.5 227.8,656.6 228.1,656.5 228.4,654.8 228.7,658.6 229.0,657.7 229.3,655.0 229.6,655.3 229.9,654.2 230.2,659.7 230.5,662.5 230.8,653.7 231.1,655.1 231.4,662.9 231.7,655.8 232.0,659.7 232.3,655.6 232.6,656.2 232.9,659.9 233.2,659.3 233.5,660.2 233.8,659.2 234.1,660.2 234.4,657.9 234.7,655.3 235.0,662.8 235.3,658.5 235.6,656.5 235.9,658.4 236.2,657.4 236.5,658.4 236.8,657.5 237.1,659.4 237.4,661.1 237.7,654.3 238.0,660.6 238.3,661.2 238.6,658.1 238.9,663.8 239.2,657.5 239.5,660.4 239.8,657.7 240.1,657.5 240.4,659.3 240.7,660.3 241.0,662.8 241.3,659.6 241.6,662.1 241.9,659.1 242.2,659.1 242.5,656.2 242.8,657.6 243.1,660.0 243.4,663.4 243.7,657.4 244.0,662.1 244.3,657.4 244.6,662.5 244.9,660.9 245.2,659.4 245.5,663.6 245.8,657.1 246.1,658.0 246.4,662.9 246.7,661.2 247.0,659.9 247.3,660.8 247.6,662.1 247.9,661.9 248.2,660.4 248.5,659.2 248.8,656.9 249.1,664.0 249.4,662.8 249.7,657.2 250.0,657.6 250.3,657.0 250.6,658.1 250.9,660.0 251.2,659.6 251.5,659.6 251.8,661.6 252.1,657.3 252.4,657.1 252.7,658.2 253.0,657.6 253.3,659.2 253.6,664.6 253.9,659.4 254.2,661.0 254.5,662.2 254.8,660.7 255.1,661.8 255.4,661.1 255.7,659.5 256.0,658.0 256.3,659.5 256.6,660.7 256.9,665.3 257.2,662.3 257.5,662.9 257.8,660.9 258.1,657.4 258.4,654.8 258.7,656.1 259.0,655.8 259.3,657.7 259.6,658.9 259.9,658.9 260.2,655.0 260.5,661.7 260.8,659.2 261.1,657.9 261.4,663.9 261.7,665.4 262.0,661.1 262.3,661.7 262.6,661.4 262.9,663.6 263.2,662.0 263.5,658.9 263.8,662.8 264.1,664.3 264.4,664.8 264.7,663.1 265.0,664.7 265.3,662.6 265.6,663.8 265.9,662.4 266.2,660.9 266.5,667.2 266.8,665.3 267.1,662.9 267.4,663.1 267.7,663.4 268.0,659.8 268.3,662.9 268.6,663.2 268.9,662.3 269.2,664.9 269.5,662.8 269.8,659.7 270.1,665.3 270.4,666.1 270.7,664.9 271.0,662.9 271.3,662.5 271.6,665.8 271.9,661.7 272.2,664.5 272.5,666.1 272.8,665.9 273.1,666.8 273.4,663.3 273.7,661.4 274.0,662.9 274.3,664.3 274.6,666.5 274.9,662.9 275.2,662.2 275.5,667.5 275.8,665.1 276.1,661.5 276.4,664.4 276.7,666.9 277.0,665.2 277.3,663.9 277.6,663.8 277.9,662.9 278.2,665.2 278.5,664.8 278.8,666.9 279.1,665.8 279.4,665.8 279.7,663.8 280.0,666.2 280.3,665.8 280.6,666.1 280.9,666.7 281.2,667.1 281.5,666.8 281.8,663.8 282.1,663.8 282.4,665.3 282.7,666.3 283.0,667.4 283.3,666.8 283.6,667.6 283.9,663.6 284.2,663.9 284.5,665.1 284.8,668.4 285.1,670.5 285.4,666.2 285.7,662.6 286.0,665.5 286.3,668.2 286.6,666.6 286.9,666.1 287.2,664.9 287.5,667.2 287.8,667.0 288.1,666.3 288.4,663.4 288.7,668.3 289.0,666.0 289.3,664.3 289.6,664.0 289.9,664.3 290.2,661.6 290.5,661.5 290.8,661.3 291.1,660.5 291.4,661.9 291.7,662.9 292.0,670.6 292.3,665.6 292.6,664.7 292.9,668.2 293.2,670.2 293.5,662.4 293.8,667.9 294.1,666.7 294.4,665.1 294.7,665.6 295.0,665.1 295.3,670.3 295.6,665.7 295.9,670.2 296.2,666.0 296.5,666.2 296.8,666.4 297.1,666.5 297.4,666.6 297.7,667.2 298.0,668.5 298.3,664.7 298.6,662.8 298.9,665.9 299.2,665.0 299.5,665.7 299.8,666.1 300.1,665.6 300.4,667.3 300.7,669.2 301.0,667.1 301.3,667.9 301.6,669.3 301.9,662.9 302.2,667.2 302.5,663.8 302.8,665.1 303.1,667.7 303.4,667.2 303.7,667.2 304.0,672.2 304.3,666.1 304.6,669.2 304.9,670.5 305.2,667.3 305.5,668.4 305.8,668.1 306.1,669.1 306.4,673.1 306.7,669.2 307.0,668.1 307.3,662.1 307.6,668.1 307.9,667.9 308.2,666.5 308.5,668.8 308.8,665.8 309.1,666.4 309.4,668.7 309.7,665.5 310.0,666.3 310.3,664.6 310.6,671.9 310.9,667.1 311.2,670.2 311.5,666.6 311.8,672.8 312.1,669.5 312.4,666.4 312.7,669.3 313.0,670.8 313.3,667.8 313.6,668.7 313.9,669.2 314.2,670.4 314.5,671.4 314.8,667.1 315.1,669.2 315.4,670.2 315.7,666.6 316.0,671.2 316.3,670.1 316.6,670.4 316.9,665.7 317.2,667.4 317.5,666.6 317.8,670.5 318.1,667.0 318.4,668.5 318.7,669.8 319.0,671.0 319.3,666.0 319.6,667.6 319.9,671.8 320.2,668.8 320.5,668.8 320.8,671.3 321.1,670.4 321.4,671.7 321.7,670.0 322.0,672.2 322.3,668.0 322.6,669.3 322.9,670.3 323.2,670.2 323.5,667.1 323.8,669.6 324.1,669.3 324.4,670.5 324.7,670.9 325.0,667.8 325.3,664.4 325.6,671.8 325.9,671.6 326.2,669.5 326.5,670.4 326.8,671.5 327.1,667.5 327.4,666.9 327.7,669.2 328.0,665.5 328.3,670.1 328.6,668.9 328.9,666.4 329.2,672.7 329.5,667.5 329.8,670.3 330.1,670.3 330.4,669.6 330.7,667.4 331.0,669.5 331.3,669.7 331.6,667.2 331.9,670.6 332.2,667.4 332.5,666.6 332.8,673.7 333.1,669.1 333.4,672.4 333.7,666.9 334.0,671.6 334.3,670.3 334.6,667.8 334.9,667.6 335.2,669.4 335.5,668.2 335.8,670.9 336.1,670.8 336.4,669.9 336.7,671.2 337.0,671.4 337.3,668.6 337.6,671.6 337.9,671.1 338.2,670.7 338.5,670.1 338.8,669.4 339.1,666.6 339.4,669.2 339.7,673.6 340.0,668.2 340.3,671.3 340.6,669.3 340.9,670.9 341.2,670.2 341.5,670.5 341.8,669.8 342.1,668.0 342.4,673.0 342.7,670.4 343.0,670.6 343.3,668.3 343.6,668.4 343.9,666.9 344.2,666.7 344.5,669.1 344.8,668.1 345.1,673.0 345.4,673.3 345.7,671.0 346.0,669.4 346.3,668.9 346.6,668.0 346.9,671.6 347.2,670.2 347.5,665.0 347.8,671.7 348.1,671.0 348.4,670.9 348.7,672.4 349.0,672.0 349.3,670.1 349.6,666.4 349.9,670.8 350.2,671.9 350.5,672.5 350.8,667.7 351.1,670.1 351.4,670.8 351.7,669.4 352.0,667.8 352.3,671.6 352.6,669.3 352.9,670.0 353.2,670.2 353.5,672.7 353.8,669.5 354.1,668.5 354.4,670.0 354.7,671.5 355.0,670.2 355.3,669.5 355.6,670.6 355.9,670.1 356.2,667.1 356.5,667.8 356.8,667.6 357.1,670.5 357.4,669.9 357.7,671.1 358.0,667.9 358.3,670.7 358.6,670.3 358.9,670.1 359.2,670.0 359.5,667.9 359.8,668.9 360.1,673.1 360.4,668.8 360.7,670.5 361.0,670.7 361.3,669.7 361.6,668.9 361.9,666.5 362.2,668.9 362.5,669.4 362.8,669.1 363.1,671.6 363.4,668.9 363.7,667.9 364.0,670.5 364.3,669.8 364.6,670.4 364.9,672.6 365.2,667.5 365.5,668.3 365.8,667.8 366.1,669.8 366.4,666.8 366.7,670.3 367.0,671.0 367.3,668.3 367.6,669.8 367.9,668.9 368.2,668.1 368.5,668.3 368.8,665.8 369.1,668.4 369.4,672.9 369.7,670.4 370.0,671.2 370.3,670.1 370.6,669.5 370.9,670.8 371.2,669.3 371.5,669.1 371.8,669.4 372.1,673.0 372.4,669.9 372.7,672.7 373.0,668.2 373.3,672.0 373.6,670.8 373.9,670.6 374.2,670.9 374.5,669.9 374.8,669.4 375.1,667.9 375.4,672.4 375.7,669.1 376.0,669.2 376.3,668.6 376.6,672.0 376.9,672.7 377.2,669.2 377.5,670.1 377.8,667.5 378.1,670.2 378.4,670.6 378.7,670.9 379.0,669.9 379.3,670.1 379.6,673.7 379.9,667.1 380.2,671.0 380.5,670.4 380.8,668.8 381.1,671.0 381.4,669.4 381.7,668.6 382.0,670.6 382.3,670.0 382.6,669.9 382.9,667.5 383.2,673.4 383.5,671.2 383.8,670.9 384.1,669.3 384.4,670.6 384.7,668.1 385.0,669.8 385.3,669.7 385.6,671.1 385.9,671.7 386.2,670.9 386.5,669.8 386.8,668.3 387.1,670.4 387.4,671.2 387.7,671.7 388.0,668.4 388.3,669.4 388.6,668.6 388.9,670.5 389.2,670.2 389.5,670.7 389.8,668.7 390.1,670.5 390.4,673.4 390.7,670.4 391.0,672.0 391.3,671.2 391.6,670.9 391.9,670.4 392.2,670.6 392.5,667.2 392.8,670.3 393.1,672.6 393.4,673.3 393.7,668.0 394.0,666.9 394.3,668.5 394.6,671.8 394.9,671.1 395.2,669.8 395.5,668.8 395.8,664.8 396.1,668.9 396.4,671.6 396.7,673.1 397.0,669.0 397.3,668.5 397.6,673.7 397.9,671.3 398.2,669.8 398.5,666.8 398.8,673.4 399.1,671.4 399.4,671.0 399.7,669.2 400.0,668.1 400.3,667.6 400.6,670.6 400.9,669.6 401.2,667.8 401.5,666.7 401.8,664.6 402.1,666.4 402.4,665.0 402.7,665.0 403.0,663.2 403.3,665.6 403.6,667.2 403.9,666.5 404.2,666.5 404.5,668.7 404.8,668.8 405.1,669.6 405.4,669.5 405.7,672.5 406.0,671.6 406.3,669.1 406.6,668.9 406.9,669.0 407.2,670.1 407.5,667.5 407.8,670.4 408.1,673.4 408.4,670.7 408.7,669.7 409.0,670.4 409.3,667.7 409.6,670.0 409.9,671.1 410.2,671.1 410.5,669.7 410.8,669.9 411.1,670.6 411.4,667.7 411.7,670.7 412.0,668.7 412.3,670.3 412.6,670.7 412.9,669.1 413.2,669.2 413.5,671.8 413.8,671.4 414.1,671.8 414.4,673.1 414.7,669.2 415.0,672.4 415.3,669.9 415.6,670.3 415.9,666.5 416.2,671.6 416.5,671.3 416.8,670.7 417.1,670.3 417.4,668.9 417.7,666.0 418.0,670.6 418.3,672.8 418.6,669.7 418.9,670.1 419.2,669.3 419.5,672.4 419.8,671.5 420.1,667.5 420.4,670.1 420.7,670.2 421.0,670.9 421.3,669.0 421.6,669.4 421.9,670.4 422.2,672.3 422.5,670.9 422.8,673.1 423.1,670.5 423.4,671.7 423.7,670.4 424.0,673.3 424.3,668.6 424.6,672.0 424.9,672.7 425.2,671.2 425.5,671.6 425.8,673.9 426.1,672.6 426.4,674.4 426.7,673.2 427.0,671.2 427.3,675.7 427.6,671.1 427.9,671.7 428.2,671.2 428.5,672.2 428.8,673.1 429.1,674.1 429.4,669.5 429.7,672.0 430.0,672.4 430.3,670.8 430.6,672.6 430.9,671.3 431.2,672.0 431.5,671.2 431.8,672.7 432.1,673.1 432.4,676.4 432.7,670.2 433.0,670.4 433.3,670.8 433.6,670.6 433.9,670.4 434.2,671.9 434.5,671.4 434.8,671.4 435.1,667.9 435.4,670.5 435.7,671.8 436.0,672.6 436.3,672.2 436.6,671.2 436.9,668.2 437.2,669.3 437.5,670.7 437.8,671.5 438.1,671.4 438.4,670.9 438.7,670.0 439.0,671.4 439.3,670.9 439.6,671.1 439.9,670.9 440.2,670.8 440.5,671.9 440.8,671.4 441.1,670.9 441.4,670.6 441.7,669.9 442.0,669.7 442.3,670.9 442.6,668.5 442.9,673.3 443.2,668.8 443.5,669.8 443.8,667.7 444.1,667.2 444.4,670.3 444.7,670.8 445.0,672.9 445.3,672.4 445.6,669.1 445.9,669.4 446.2,668.2 446.5,669.0 446.8,670.6 447.1,669.7 447.4,672.5 447.7,668.7 448.0,670.9 448.3,671.4 448.6,670.5 448.9,669.7 449.2,669.3 449.5,670.6 449.8,669.6 450.1,669.5 450.4,668.1 450.7,667.8 451.0,669.7 451.3,668.1 451.6,669.0 451.9,668.9 452.2,670.1 452.5,669.4 452.8,671.7 453.1,669.0 453.4,670.7 453.7,672.6 454.0,672.0 454.3,669.8 454.6,671.7 454.9,669.8 455.2,669.0 455.5,669.0 455.8,670.8 456.1,669.5 456.4,665.6 456.7,668.5 457.0,665.5 457.3,662.2 457.6,664.2 457.9,657.5 458.2,654.0 458.5,652.4 458.8,652.1 459.1,654.9 459.4,651.6 459.7,656.6 460.0,656.6 460.3,660.2 460.6,658.9 460.9,663.5 461.2,660.9 461.5,663.4 461.8,660.3 462.1,663.1 462.4,663.2 462.7,662.3 463.0,664.7 463.3,666.5 463.6,665.7 463.9,669.1 464.2,668.0 464.5,670.4 464.8,668.2 465.1,667.4 465.4,669.2 465.7,669.9 466.0,672.1 466.3,674.7 466.6,672.1 466.9,671.8 467.2,670.3 467.5,669.9 467.8,670.7 468.1,669.9 468.4,672.1 468.7,670.8 469.0,670.3 469.3,671.6 469.6,672.1 469.9,671.6 470.2,670.3 470.5,673.1 470.8,673.8 471.1,669.2 471.4,669.7 471.7,672.7 472.0,668.4 472.3,672.8 472.6,669.8 472.9,672.8 473.2,672.5 473.5,671.3 473.8,671.3 474.1,670.5 474.4,673.5 474.7,672.6 475.0,671.2 475.3,670.7 475.6,673.2 475.9,672.1 476.2,671.8 476.5,671.8 476.8,669.9 477.1,674.3 477.4,673.4 477.7,672.0 478.0,671.8 478.3,671.9 478.6,669.0 478.9,669.1 479.2,669.6 479.5,671.3 479.8,670.4 480.1,670.1 480.4,670.0 480.7,666.6 481.0,664.0 481.3,666.4 481.6,662.6 481.9,662.9 482.2,668.0 482.5,666.9 482.8,665.9 483.1,668.7 483.4,671.2 483.7,668.9 484.0,671.2 484.3,670.2 484.6,671.8 484.9,671.8 485.2,668.3 485.5,670.6 485.8,671.3 486.1,669.1 486.4,671.2 486.7,672.0 487.0,670.8 487.3,669.3 487.6,669.8 487.9,672.4 488.2,670.5 488.5,669.3 488.8,672.0 489.1,672.6 489.4,671.0 489.7,669.7 490.0,670.5 490.3,671.3 490.6,670.5 490.9,670.7 491.2,668.8 491.5,671.2 491.8,672.8 492.1,672.3 492.4,673.1 492.7,672.3 493.0,669.9 493.3,670.6 493.6,672.6 493.9,670.0 494.2,671.3 494.5,668.9 494.8,666.2 495.1,670.2 495.4,668.0 495.7,672.5 496.0,669.6 496.3,669.4 496.6,665.8 496.9,665.9 497.2,664.6 497.5,666.1 497.8,665.9 498.1,666.7 498.4,670.2 498.7,669.3 499.0,672.0 499.3,672.2 499.6,671.9 499.9,673.8 500.2,672.4 500.5,672.9 500.8,671.7 501.1,671.3 501.4,672.4 501.7,671.8 502.0,670.5 502.3,669.3 502.6,670.9 502.9,671.7 503.2,671.6 503.5,669.7 503.8,671.1 504.1,671.5 504.4,671.0 504.7,671.4 505.0,671.3 505.3,670.5 505.6,669.1 505.9,671.5 506.2,671.0 506.5,671.1 506.8,671.7 507.1,672.6 507.4,673.6 507.7,672.7 508.0,671.1 508.3,672.0 508.6,670.7 508.9,672.9 509.2,672.8 509.5,671.8 509.8,670.5 510.1,671.4 510.4,672.9 510.7,671.1 511.0,672.6 511.3,671.4 511.6,673.1 511.9,670.3 512.2,674.0 512.5,672.2 512.8,672.5 513.1,675.3 513.4,673.3 513.7,669.2 514.0,671.4 514.3,672.0 514.6,669.2 514.9,673.0 515.2,673.4 515.5,670.1 515.8,672.0 516.1,670.9 516.4,672.3 516.7,672.2 517.0,670.4 517.3,671.4 517.6,671.6 517.9,672.7 518.2,670.1 518.5,670.1 518.8,674.8 519.1,670.2 519.4,671.9 519.7,669.9 520.0,670.7 520.3,673.4 520.6,670.9 520.9,672.5 521.2,671.1 521.5,670.2 521.8,671.7 522.1,669.9 522.4,670.6 522.7,670.0 523.0,669.6 523.3,669.2 523.6,670.2 523.9,668.6 524.2,670.9 524.5,671.4 524.8,671.7 525.1,671.3 525.4,670.1 525.7,670.4 526.0,667.4 526.3,667.3 526.6,666.2 526.9,667.8 527.2,664.4 527.5,664.6 527.8,666.9 528.1,662.6 528.4,661.7 528.7,662.6 529.0,661.9 529.3,659.3 529.6,657.8 529.9,661.0 530.2,655.8 530.5,656.2 530.8,660.0 531.1,659.5 531.4,660.2 531.7,662.3 532.0,661.2 532.3,658.7 532.6,661.9 532.9,664.3 533.2,664.9 533.5,666.0 533.8,664.4 534.1,669.8 534.4,667.6 534.7,669.1 535.0,669.7 535.3,670.1 535.6,670.3 535.9,669.3 536.2,672.0 536.5,668.9 536.8,670.1 537.1,668.8 537.4,670.7 537.7,671.6 538.0,672.5 538.3,672.1 538.6,670.3 538.9,671.8 539.2,671.4 539.5,669.3 539.8,670.7 540.1,674.7 540.4,672.9 540.7,671.3 541.0,674.0 541.3,674.1 541.6,672.3 541.9,673.3 542.2,672.9 542.5,669.8 542.8,671.5 543.1,671.9 543.4,670.2 543.7,672.5 544.0,669.6 544.3,670.9 544.6,670.4 544.9,669.2 545.2,671.9 545.5,669.7 545.8,665.9 546.1,655.9 546.4,650.2 546.7,640.7 547.0,633.9 547.3,632.3 547.6,635.2 547.9,644.0 548.2,650.1 548.5,655.9 548.8,661.5 549.1,669.0 549.4,672.3 549.7,671.5 550.0,673.1 550.3,672.7 550.6,670.7 550.9,671.3 551.2,670.2 551.5,671.7 551.8,669.8 552.1,666.0 552.4,664.4 552.7,663.7 553.0,660.5 553.3,657.8 553.6,661.4 553.9,658.3 554.2,661.8 554.5,668.4 554.8,666.8 555.1,668.8 555.4,670.4 555.7,665.9 556.0,667.2 556.3,664.0 556.6,665.2 556.9,662.5 557.2,660.0 557.5,655.8 557.8,654.7 558.1,645.7 558.4,640.0 558.7,622.8 559.0,612.3 559.3,589.5 559.6,566.1 559.9,547.5 560.2,530.3 560.5,522.6 560.8,529.0 561.1,541.1 561.4,558.9 561.7,582.0 562.0,599.8 562.3,617.4 562.6,626.9 562.9,637.4 563.2,641.3 563.5,648.6 563.8,653.4 564.1,653.5 564.4,653.1 564.7,647.8 565.0,644.2 565.3,638.0 565.6,631.1 565.9,626.7 566.2,622.5 566.5,622.8 566.8,624.8 567.1,629.0 567.4,642.3 567.7,650.7 568.0,656.9 568.3,661.3 568.6,668.5 568.9,670.2 569.2,670.9 569.5,671.3 569.8,672.2 570.1,675.8 570.4,670.4 570.7,672.9 571.0,671.0 571.3,672.2 571.6,671.9 571.9,675.1 572.2,671.5 572.5,673.4 572.8,675.8 573.1,672.7 573.4,673.2 573.7,673.9 574.0,672.5 574.3,673.9 574.6,672.9 574.9,674.0 575.2,673.5 575.5,673.2 575.8,672.4 576.1,674.2 576.4,672.4 576.7,673.2 577.0,675.8 577.3,674.3 577.6,673.7 577.9,674.8 578.2,676.5 578.5,676.2 578.8,673.9 579.1,673.6 579.4,673.7 579.7,673.3 580.0,675.9 580.3,676.3 580.6,677.0 580.9,676.0 581.2,672.2 581.5,674.1 581.8,674.9 582.1,675.4 582.4,673.6 582.7,674.6 583.0,674.6 583.3,677.8 583.6,675.2 583.9,675.9 584.2,675.7 584.5,676.0 584.8,675.4 585.1,676.4 585.4,673.4 585.7,674.6 586.0,676.1 586.3,677.1 586.6,675.8 586.9,674.9 587.2,675.0 587.5,676.6 587.8,673.8 588.1,676.0 588.4,675.3 588.7,676.1 589.0,676.0 589.3,675.5 589.6,675.4 589.9,673.3 590.2,677.1 590.5,675.7 590.8,675.5 591.1,678.4 591.4,677.1 591.7,675.0 592.0,671.9 592.3,673.7 592.6,676.6 592.9,675.2 593.2,675.0 593.5,675.1 593.8,671.9 594.1,675.3 594.4,675.4 594.7,675.5 595.0,675.3 595.3,675.3 595.6,674.9 595.9,673.4 596.2,676.7 596.5,673.2 596.8,675.9 597.1,676.9 597.4,676.9 597.7,674.6 598.0,675.1 598.3,676.2 598.6,675.3 598.9,674.8 599.2,676.4 599.5,675.7 599.8,673.5 600.1,675.0 600.4,675.4 600.7,675.7 601.0,674.2 601.3,676.5 601.6,676.3 601.9,674.5 602.2,675.0 602.5,672.5 602.8,674.8 603.1,675.2 603.4,675.8 603.7,673.2 604.0,675.0 604.3,674.0 604.6,679.0 604.9,674.5 605.2,674.3 605.5,675.5 605.8,671.8 606.1,674.0 606.4,674.8 606.7,673.8 607.0,673.5 607.3,673.9 607.6,677.0 607.9,673.5 608.2,675.4 608.5,673.5 608.8,675.2 609.1,676.1 609.4,675.0 609.7,675.4 610.0,676.3 610.3,675.6 610.6,675.2 610.9,676.0 611.2,675.5 611.5,675.9 611.8,675.8 612.1,673.9 612.4,676.5 612.7,677.3 613.0,674.6 613.3,676.2 613.6,677.1 613.9,675.8 614.2,677.9 614.5,674.3 614.8,677.6 615.1,676.1 615.4,673.0 615.7,676.3 616.0,676.0 616.3,678.8 616.6,676.1 616.9,679.4 617.2,675.8 617.5,677.4 617.8,675.2 618.1,678.4 618.4,677.2 618.7,680.0 619.0,675.7 619.3,676.3 619.6,675.8 619.9,680.3 620.2,674.4 620.5,674.5 620.8,680.2 621.1,677.0 621.4,679.1 621.7,678.2 622.0,678.1 622.3,676.5 622.6,675.0 622.9,677.6 623.2,680.0 623.5,673.7 623.8,676.4 624.1,678.2 624.4,679.0 624.7,677.0 625.0,678.8 625.3,679.9 625.6,676.1 625.9,677.7 626.2,676.1 626.5,676.1 626.8,680.8 627.1,679.6 627.4,678.4 627.7,676.6 628.0,680.4 628.3,678.4 628.6,678.3 628.9,679.0 629.2,680.6 629.5,680.4 629.8,679.5 630.1,675.9 630.4,677.4 630.7,677.1 631.0,678.8 631.3,678.1 631.6,676.4 631.9,678.1 632.2,678.0 632.5,679.8 632.8,677.3 633.1,678.2 633.4,678.0 633.7,676.9 634.0,682.3 634.3,677.1 634.6,677.8 634.9,677.6 635.2,677.6 635.5,675.7 635.8,677.2 636.1,678.7 636.4,678.2 636.7,677.4 637.0,679.3 637.3,677.2 637.6,675.0 637.9,678.1 638.2,676.5 638.5,678.6 638.8,679.8 639.1,677.8 639.4,680.3 639.7,678.1 640.0,676.5 640.3,678.5 640.6,677.1 640.9,677.2 641.2,675.6 641.5,676.5 641.8,673.7 642.1,674.2 642.4,670.5 642.7,671.6 643.0,667.9 643.3,668.4 643.6,667.2 643.9,663.6 644.2,665.7 644.5,662.2 644.8,663.0 645.1,668.0 645.4,666.6 645.7,669.0 646.0,671.9 646.3,672.8 646.6,674.1 646.9,674.6 647.2,676.3 647.5,676.8 647.8,676.5 648.1,675.8 648.4,674.9 648.7,678.4 649.0,674.7 649.3,674.3 649.6,675.7 649.9,674.7 650.2,672.8 650.5,671.2 650.8,672.0 651.1,669.5 651.4,667.9 651.7,667.9 652.0,670.1 652.3,669.9 652.6,672.2 652.9,671.8 653.2,673.0 653.5,674.2 653.8,675.3 654.1,675.1 654.4,675.8 654.7,678.1 655.0,678.4 655.3,678.2 655.6,678.4 655.9,676.5 656.2,680.7 656.5,677.0 656.8,679.4 657.1,680.0 657.4,678.7 657.7,679.8 658.0,678.0 658.3,679.2 658.6,677.0 658.9,679.0 659.2,677.5 659.5,677.2 659.8,680.3 660.1,678.2 660.4,678.3 660.7,678.8 661.0,678.9 661.3,678.2 661.6,678.5 661.9,679.3 662.2,676.0 662.5,679.5 662.8,677.3 663.1,677.3 663.4,676.1 663.7,676.1 664.0,675.5 664.3,677.8 664.6,678.0 664.9,673.1 665.2,672.7 665.5,673.1 665.8,669.3 666.1,667.8 666.4,667.5 666.7,667.4 667.0,670.0 667.3,670.9 667.6,669.6 667.9,670.1 668.2,668.7 668.5,665.0 668.8,661.3 669.1,658.0 669.4,658.9 669.7,655.2 670.0,653.6 670.3,656.1 670.6,662.1 670.9,664.8 671.2,668.8 671.5,669.5 671.8,671.3 672.1,673.1 672.4,677.3 672.7,675.8 673.0,676.3 673.3,678.5 673.6,678.1 673.9,675.9 674.2,678.1 674.5,677.2 674.8,677.6 675.1,678.2 675.4,679.0 675.7,677.5 676.0,678.7 676.3,680.8 676.6,677.8 676.9,679.6 677.2,676.7 677.5,677.0 677.8,677.4 678.1,676.1 678.4,677.4 678.7,676.1 679.0,676.5 679.3,673.5 679.6,673.2 679.9,676.0 680.2,670.4 680.5,670.5 680.8,669.3 681.1,669.4 681.4,669.0 681.7,671.7 682.0,671.4 682.3,670.9 682.6,671.1 682.9,670.9 683.2,666.6 683.5,664.6 683.8,665.9 684.1,662.2 684.4,662.5 684.7,665.7 685.0,665.2 685.3,668.4 685.6,670.5 685.9,676.0 686.2,675.2 686.5,677.7 686.8,678.1 687.1,677.6 687.4,676.7 687.7,680.5 688.0,678.9 688.3,679.6 688.6,678.4 688.9,678.2 689.2,679.1 689.5,678.4 689.8,679.8 690.1,678.1 690.4,676.9 690.7,677.4 691.0,678.1 691.3,679.7 691.6,678.5 691.9,679.6 692.2,681.2 692.5,679.5 692.8,678.7 693.1,679.0 693.4,681.7 693.7,678.8 694.0,681.3 694.3,678.2 694.6,676.8 694.9,680.2 695.2,679.4 695.5,679.9 695.8,677.8 696.1,682.4 696.4,679.1 696.7,679.1 697.0,679.6 697.3,679.5 697.6,679.6 697.9,680.8 698.2,680.4 698.5,677.5 698.8,678.6 699.1,681.2 699.4,679.9 699.7,680.5 700.0,678.7 700.3,680.0 700.6,679.1 700.9,678.7 701.2,680.1 701.5,677.8 701.8,679.6 702.1,681.1 702.4,681.0 702.7,678.7 703.0,679.0 703.3,678.7 703.6,680.2 703.9,679.6 704.2,680.7 704.5,678.9 704.8,680.2 705.1,680.6 705.4,678.4 705.7,680.0 706.0,680.5 706.3,679.9 706.6,679.8 706.9,680.1 707.2,680.4 707.5,681.6 707.8,679.5 708.1,679.0 708.4,677.8 708.7,679.5 709.0,680.7 709.3,678.5 709.6,678.0 709.9,678.3 710.2,680.1 710.5,678.7 710.8,678.9 711.1,680.3 711.4,679.9 711.7,677.0 712.0,680.4 712.3,679.7 712.6,679.9 712.9,681.2 713.2,679.9 713.5,678.4 713.8,679.5 714.1,679.6 714.4,680.5 714.7,678.6 715.0,678.4 715.3,678.8 715.6,678.1 715.9,676.6 716.2,678.4 716.5,675.8 716.8,676.0 717.1,672.6 717.4,669.7 717.7,668.8 718.0,669.3 718.3,668.9 718.6,670.1 718.9,668.6 719.2,671.2 719.5,674.3 719.8,672.5 720.1,676.4 720.4,674.9 720.7,677.0 721.0,678.1 721.3,678.0 721.6,680.2 721.9,680.4 722.2,677.7 722.5,678.3 722.8,678.5 723.1,678.0 723.4,679.4 723.7,676.9 724.0,678.4 724.3,677.1 724.6,680.8 724.9,679.2 725.2,677.8 725.5,678.8 725.8,678.4 726.1,675.7 726.4,676.8 726.7,673.1 727.0,672.5 727.3,670.6 727.6,670.2 727.9,669.8 728.2,669.1 728.5,667.7 728.8,669.4 729.1,668.6 729.4,670.8 729.7,671.7 730.0,671.6 730.3,672.5 730.6,674.7 730.9,675.3 731.2,675.2 731.5,677.5 731.8,679.8 732.1,679.4 732.4,677.3 732.7,677.5 733.0,678.1 733.3,677.1 733.6,678.4 733.9,680.7 734.2,679.3 734.5,678.1 734.8,677.3 735.1,679.5 735.4,681.1 735.7,680.3 736.0,679.4 736.3,678.0 736.6,679.9 736.9,678.1 737.2,676.3 737.5,677.6 737.8,679.2 738.1,678.8 738.4,680.4 738.7,679.1 739.0,679.9 739.3,677.8 739.6,679.6 739.9,677.9 740.2,679.7 740.5,679.6 740.8,678.5 741.1,678.7 741.4,680.0 741.7,679.2 742.0,678.8 742.3,679.3 742.6,681.4 742.9,679.8 743.2,681.0 743.5,679.7 743.8,680.1 744.1,680.0 744.4,678.7 744.7,681.6 745.0,677.4 745.3,679.9 745.6,680.2 745.9,679.7 746.2,681.1 746.5,678.8 746.8,678.6 747.1,679.4 747.4,678.7 747.7,678.7 748.0,678.7 748.3,681.6 748.6,680.0 748.9,679.6 749.2,681.2 749.5,678.3 749.8,680.1 750.1,682.9 750.4,680.2 750.7,679.1 751.0,680.4 751.3,681.5 751.6,681.3 751.9,680.2 752.2,680.8 752.5,680.1 752.8,680.8 753.1,682.0 753.4,679.3 753.7,681.9 754.0,681.5 754.3,680.2 754.6,680.8 754.9,681.3 755.2,681.9 755.5,680.2 755.8,680.3 756.1,680.6 756.4,681.2 756.7,680.0 757.0,681.5 757.3,681.2 757.6,684.0 757.9,681.3 758.2,680.0 758.5,678.6 758.8,681.3 759.1,681.1 759.4,680.4 759.7,680.9 760.0,680.2 760.3,681.0 760.6,681.1 760.9,679.5 761.2,680.2 761.5,679.5 761.8,680.3 762.1,679.8 762.4,680.5 762.7,680.7 763.0,679.2 763.3,681.4 763.6,682.0 763.9,680.9 764.2,679.5 764.5,679.1 764.8,678.7 765.1,679.7 765.4,678.7 765.7,679.5 766.0,679.6 766.3,679.2 766.6,680.6 766.9,678.5 767.2,679.0 767.5,679.0 767.8,678.7 768.1,678.1 768.4,679.7 768.7,678.0 769.0,679.7 769.3,678.1 769.6,676.4 769.9,678.2 770.2,676.5 770.5,675.7 770.8,674.7 771.1,672.1 771.4,669.6 771.7,662.5 772.0,655.3 772.3,646.8 772.6,639.1 772.9,634.3 773.2,634.2 773.5,641.0 773.8,651.0 774.1,656.6 774.4,665.4 774.7,668.9 775.0,673.9 775.3,674.8 775.6,674.6 775.9,676.5 776.2,678.4 776.5,679.0 776.8,679.5 777.1,678.8 777.4,677.9 777.7,677.8 778.0,678.0 778.3,679.2 778.6,678.1 778.9,679.3 779.2,679.0 779.5,678.6 779.8,676.5 780.1,679.8 780.4,680.4 780.7,680.1 781.0,677.8 781.3,678.1 781.6,675.7 781.9,677.5 782.2,678.1 782.5,674.9 782.8,676.7 783.1,676.9 783.4,674.2 783.7,673.0 784.0,672.4 784.3,670.0 784.6,668.7 784.9,666.2 785.2,666.1 785.5,661.7 785.8,662.5 786.1,663.9 786.4,665.1 786.7,665.7 787.0,665.3 787.3,666.6 787.6,670.7 787.9,671.7 788.2,673.8 788.5,674.5 788.8,675.9 789.1,676.1 789.4,678.7 789.7,677.2 790.0,676.9 790.3,677.3 790.6,677.3 790.9,676.6 791.2,680.0 791.5,674.0 791.8,677.1 792.1,677.6 792.4,679.4 792.7,677.0 793.0,677.6 793.3,679.6 793.6,676.0 793.9,678.3 794.2,677.1 794.5,677.8 794.8,678.9 795.1,678.8 795.4,678.4 795.7,679.4 796.0,677.5 796.3,679.2 796.6,679.0 796.9,677.0 797.2,677.6 797.5,676.8 797.8,677.0 798.1,675.7 798.4,679.7 798.7,679.5 799.0,678.5 799.3,676.2 799.6,678.2 799.9,678.7 800.2,681.8 800.5,677.7 800.8,679.2 801.1,682.1 801.4,677.6 801.7,678.6 802.0,678.3 802.3,679.7 802.6,679.2 802.9,677.7 803.2,679.1 803.5,680.1 803.8,681.3 804.1,681.2 804.4,680.2 804.7,679.6 805.0,678.3 805.3,681.7 805.6,680.2 805.9,678.9 806.2,680.8 806.5,679.8 806.8,678.9 807.1,680.5 807.4,678.9 807.7,680.5 808.0,680.3 808.3,679.0 808.6,680.1 808.9,678.1 809.2,681.1 809.5,681.6 809.8,677.4 810.1,680.8 810.4,681.2 810.7,683.1 811.0,682.8 811.3,682.4 811.6,680.4 811.9,680.1 812.2,681.3 812.5,681.8 812.8,681.3 813.1,680.7 813.4,680.6 813.7,680.8 814.0,680.3 814.3,681.0 814.6,680.7 814.9,679.4 815.2,681.6 815.5,682.0 815.8,680.6 816.1,678.3 816.4,683.1 816.7,681.8 817.0,680.6 817.3,680.9 817.6,681.4 817.9,681.6 818.2,682.2 818.5,681.7 818.8,680.2 819.1,683.6 819.4,682.7 819.7,681.2 820.0,681.0 820.3,681.2 820.6,682.3 820.9,680.5 821.2,682.7 821.5,682.8 821.8,683.0 822.1,681.5 822.4,681.1 822.7,683.1 823.0,682.6 823.3,680.1 823.6,680.2 823.9,683.3 824.2,683.2 824.5,680.5 824.8,681.5 825.1,683.3 825.4,682.8 825.7,682.9 826.0,680.3 826.3,682.0 826.6,681.0 826.9,682.0 827.2,681.2 827.5,681.0 827.8,680.9 828.1,682.0 828.4,681.2 828.7,681.5 829.0,681.8 829.3,682.7 829.6,680.8 829.9,681.8 830.2,681.3 830.5,682.7 830.8,680.5 831.1,681.2 831.4,682.4 831.7,681.6 832.0,679.6 832.3,679.7 832.6,679.3 832.9,681.2 833.2,681.0 833.5,679.5 833.8,679.5 834.1,680.2 834.4,681.7 834.7,680.8 835.0,678.1 835.3,680.4 835.6,679.2 835.9,681.5 836.2,676.6 836.5,680.3 836.8,678.9 837.1,678.8 837.4,679.7 837.7,679.8 838.0,676.8 838.3,678.6 838.6,677.7 838.9,676.8 839.2,677.1 839.5,678.2 839.8,676.5 840.1,677.2 840.4,676.5 840.7,678.5 841.0,677.9 841.3,675.4 841.6,675.8 841.9,676.3 842.2,677.0 842.5,676.9 842.8,676.8 843.1,678.0 843.4,677.2 843.7,677.4 844.0,676.1 844.3,676.0 844.6,675.9 844.9,679.7 845.2,677.6 845.5,678.3 845.8,681.0 846.1,680.2 846.4,678.8 846.7,678.3 847.0,678.0 847.3,679.1 847.6,678.6 847.9,679.5 848.2,677.3 848.5,678.1 848.8,678.5 849.1,678.0 849.4,678.9 849.7,679.3 850.0,679.6 850.3,679.0 850.6,676.8 850.9,677.9 851.2,680.8 851.5,678.4 851.8,678.8 852.1,680.2 852.4,678.8 852.7,680.0 853.0,680.3 853.3,679.2 853.6,678.8 853.9,679.1 854.2,678.9 854.5,679.6 854.8,680.9 855.1,675.2 855.4,679.0 855.7,677.8 856.0,679.1 856.3,678.6 856.6,676.9 856.9,677.9 857.2,678.5 857.5,681.3 857.8,677.6 858.1,680.3 858.4,678.4 858.7,676.8 859.0,679.7 859.3,680.1 859.6,679.4 859.9,680.7 860.2,681.2 860.5,679.7 860.8,680.4 861.1,679.8 861.4,678.3 861.7,680.9 862.0,678.8 862.3,679.5 862.6,681.2 862.9,680.3 863.2,682.9 863.5,680.1 863.8,680.6 864.1,681.3 864.4,680.6 864.7,679.6 865.0,680.7 865.3,678.2 865.6,679.8 865.9,680.6 866.2,680.4 866.5,680.4 866.8,681.6 867.1,681.9 867.4,679.4 867.7,680.7 868.0,681.4 868.3,681.1 868.6,680.2 868.9,681.2 869.2,681.4 869.5,681.9 869.8,679.4 870.1,680.1 870.4,682.9 870.7,681.3 871.0,681.0 871.3,678.8 871.6,679.7 871.9,681.0 872.2,681.2 872.5,682.2 872.8,681.5 873.1,680.8 873.4,679.7 873.7,680.1 874.0,682.2 874.3,683.0 874.6,683.0 874.9,682.5 875.2,680.9 875.5,681.6 875.8,681.1 876.1,681.2 876.4,682.0 876.7,681.4 877.0,681.2 877.3,682.4 877.6,682.6 877.9,680.4 878.2,681.1 878.5,680.7 878.8,681.0 879.1,680.8 879.4,681.4 879.7,682.1 880.0,681.8 880.3,681.0 880.6,681.0 880.9,681.4 881.2,681.1 881.5,680.8 881.8,680.2 882.1,678.4 882.4,680.1 882.7,680.7 883.0,681.2 883.3,682.1 883.6,681.1 883.9,680.6 884.2,680.4 884.5,680.3 884.8,680.2 885.1,680.3 885.4,683.9 885.7,681.9 886.0,680.8 886.3,682.8 886.6,681.5 886.9,682.6 887.2,679.8 887.5,681.2 887.8,680.9 888.1,680.2 888.4,681.3 888.7,680.3 889.0,680.9 889.3,680.7 889.6,681.4 889.9,682.3 890.2,680.2 890.5,678.1 890.8,680.1 891.1,681.7 891.4,682.4 891.7,682.8 892.0,680.4 892.3,681.8 892.6,681.6 892.9,681.7 893.2,680.5 893.5,681.3 893.8,681.6 894.1,681.4 894.4,681.1 894.7,682.3 895.0,682.1 895.3,681.9 895.6,683.5 895.9,681.9 896.2,681.5 896.5,681.6 896.8,681.0 897.1,682.5 897.4,681.0 897.7,678.4 898.0,680.5 898.3,681.2 898.6,682.7 898.9,682.9 899.2,680.3 899.5,682.0 899.8,680.6 900.1,681.2 900.4,681.8 900.7,681.1 901.0,682.3 901.3,681.7 901.6,680.9 901.9,680.8 902.2,681.5 902.5,683.4 902.8,681.7 903.1,682.6 903.4,682.2 903.7,683.9 904.0,682.0 904.3,682.0 904.6,682.0 904.9,681.7 905.2,680.6 905.5,681.4 905.8,682.2 906.1,680.4 906.4,680.7 906.7,680.4 907.0,681.8 907.3,681.0 907.6,680.3 907.9,681.2 908.2,680.2 908.5,678.5 908.8,682.5 909.1,679.2 909.4,681.9 909.7,679.7 910.0,681.0 910.3,679.7 910.6,679.3 910.9,682.6 911.2,681.4 911.5,680.4 911.8,680.6 912.1,680.0 912.4,680.5 912.7,678.7 913.0,680.3 913.3,679.6 913.6,681.9 913.9,681.8 914.2,678.8 914.5,678.9 914.8,678.9 915.1,676.9 915.4,676.8 915.7,676.9 916.0,675.0 916.3,677.2 916.6,675.1 916.9,674.6 917.2,673.0 917.5,678.7 917.8,678.2 918.1,679.6 918.4,678.9 918.7,681.4 919.0,681.7 919.3,681.0 919.6,679.8 919.9,678.4 920.2,683.4 920.5,682.9 920.8,679.9 921.1,680.1 921.4,681.9 921.7,681.8 922.0,682.2 922.3,681.7 922.6,684.4 922.9,680.8 923.2,680.3 923.5,682.6 923.8,683.1 924.1,681.9 924.4,682.1 924.7,681.4 925.0,680.8 925.3,682.1 925.6,681.8 925.9,682.1 926.2,682.1 926.5,682.5 926.8,684.2 927.1,681.5 927.4,683.2 927.7,682.2 928.0,682.4 928.3,682.6 928.6,682.9 928.9,681.8 929.2,682.6 929.5,682.1 929.8,681.5 930.1,681.6 930.4,681.3 930.7,683.9 931.0,683.2 931.3,680.6 931.6,682.5 931.9,681.4 932.2,683.3 932.5,681.3 932.8,681.3 933.1,681.8 933.4,680.2 933.7,683.0 934.0,680.7 934.3,680.0 934.6,680.8 934.9,680.7 935.2,677.2 935.5,677.5 935.8,676.2 936.1,675.2 936.4,676.8 936.7,680.3 937.0,677.0 937.3,679.6 937.6,681.6 937.9,681.6 938.2,680.7 938.5,681.1 938.8,680.1 939.1,675.8 939.4,679.3 939.7,678.3 940.0,675.6 940.3,679.7 940.6,676.6 940.9,675.5 941.2,678.1 941.5,676.1 941.8,680.0 942.1,679.1 942.4,679.5 942.7,680.1 943.0,679.4 943.3,680.7 943.6,680.7 943.9,681.1 944.2,679.0 944.5,679.1 944.8,681.0 945.1,681.5 945.4,679.9 945.7,681.8 946.0,679.3 946.3,681.7 946.6,679.8 946.9,679.1 947.2,679.9 947.5,678.0 947.8,679.6 948.1,679.3 948.4,680.5 948.7,679.2 949.0,679.0 949.3,674.8 949.6,676.3 949.9,674.9 950.2,676.5 950.5,676.3 950.8,675.2 951.1,676.5 951.4,679.5 951.7,679.9 952.0,681.6 952.3,682.2 952.6,679.1 952.9,679.5 953.2,679.6 953.5,678.9 953.8,680.1 954.1,679.5 954.4,677.6 954.7,675.7 955.0,677.3 955.3,678.9 955.6,679.1 955.9,678.3 956.2,677.4 956.5,682.5 956.8,681.1 957.1,679.7 957.4,680.8 957.7,681.3 958.0,682.1 958.3,679.8 958.6,680.3 958.9,680.3 959.2,680.7 959.5,679.2 959.8,678.4 960.1,676.8 960.4,676.1 960.7,676.4 961.0,675.6 961.3,675.8 961.6,673.5 961.9,672.6 962.2,669.0 962.5,670.4 962.8,669.1 963.1,670.0 963.4,667.0 963.7,669.3 964.0,668.4 964.3,670.2 964.6,668.4 964.9,669.4 965.2,670.1 965.5,671.7 965.8,672.4 966.1,674.0 966.4,675.7 966.7,676.9 967.0,678.0 967.3,678.4 967.6,678.5 967.9,677.6 968.2,678.0 968.5,681.5 968.8,681.5 969.1,681.5 969.4,681.6 969.7,681.1 970.0,683.7 970.3,681.6 970.6,680.0 970.9,680.8 971.2,682.8 971.5,679.7 971.8,683.6 972.1,684.3 972.4,681.0 972.7,682.1 973.0,683.1 973.3,681.6 973.6,681.1 973.9,679.2 974.2,683.8 974.5,681.5 974.8,682.5 975.1,681.5 975.4,681.5 975.7,682.9 976.0,682.3 976.3,682.3 976.6,682.3 976.9,682.2 977.2,680.5 977.5,680.4 977.8,681.5 978.1,683.6 978.4,683.8 978.7,682.6 979.0,683.6 979.3,683.1 979.6,680.6 979.9,682.9 980.2,682.7 980.5,681.2 980.8,681.8 981.1,684.0 981.4,679.6 981.7,681.5 982.0,681.9 982.3,680.0 982.6,681.5 982.9,681.3 983.2,681.6 983.5,682.8 983.8,682.0 984.1,681.3 984.4,680.2 984.7,680.8 985.0,681.1 985.3,678.2 985.6,680.5 985.9,679.5 986.2,682.8 986.5,682.6 986.8,683.9 987.1,683.1 987.4,680.6 987.7,680.1 988.0,681.5 988.3,681.7 988.6,682.7 988.9,682.1 989.2,681.7 989.5,682.7 989.8,682.4 990.1,680.7 990.4,680.6 990.7,682.8 991.0,681.6 991.3,682.2 991.6,681.7 991.9,680.0 992.2,680.6 992.5,682.0 992.8,681.1 993.1,681.0 993.4,680.3 993.7,680.6 994.0,681.6 994.3,683.0 994.6,681.4 994.9,681.6 995.2,680.4 995.5,680.9 995.8,681.0 996.1,682.3 996.4,679.2 996.7,680.3 997.0,681.1 997.3,680.7 997.6,683.0 997.9,681.9 998.2,682.8 998.5,681.0 998.8,682.3 999.1,681.1 999.4,682.4 999.7,683.2 1000.0,683.7 1000.3,681.1 1000.6,681.8 1000.9,682.9 1001.2,681.2 1001.5,682.1 1001.8,684.2 1002.1,682.1 1002.4,681.6 1002.7,680.8 1003.0,683.6 1003.3,682.5 1003.6,681.3 1003.9,680.6 1004.2,682.8 1004.5,683.5 1004.8,681.4 1005.1,684.1 1005.4,683.0 1005.7,684.6 1006.0,680.8 1006.3,683.3 1006.6,682.0 1006.9,682.7 1007.2,684.5 1007.5,682.8 1007.8,682.6 1008.1,682.6 1008.4,681.8 1008.7,682.4 1009.0,684.4 1009.3,682.4 1009.6,682.1 1009.9,684.4 1010.2,683.0 1010.5,682.0 1010.8,681.7 1011.1,681.5 1011.4,685.7 1011.7,683.5 1012.0,682.0 1012.3,683.1 1012.6,684.7 1012.9,681.1 1013.2,683.4 1013.5,683.9 1013.8,682.2 1014.1,681.3 1014.4,684.0 1014.7,684.3 1015.0,682.1 1015.3,683.7 1015.6,682.4 1015.9,684.3 1016.2,683.4 1016.5,682.7 1016.8,682.4 1017.1,682.2 1017.4,682.4 1017.7,683.6 1018.0,683.7 1018.3,682.4 1018.6,684.5 1018.9,682.8 1019.2,683.4 1019.5,684.0 1019.8,680.8 1020.1,681.8 1020.4,683.3 1020.7,681.4 1021.0,681.3 1021.3,684.7 1021.6,682.6 1021.9,681.8 1022.2,682.0 1022.5,682.4 1022.8,682.8 1023.1,683.2 1023.4,683.5 1023.7,682.7 1024.0,683.0 1024.3,684.8 1024.6,682.4 1024.9,684.7 1025.2,679.9 1025.5,683.1 1025.8,683.6 1026.1,683.1 1026.4,683.3 1026.7,682.0 1027.0,683.3 1027.3,684.1 1027.6,684.4 1027.9,681.8 1028.2,683.0 1028.5,685.3 1028.8,683.1 1029.1,682.9 1029.4,684.9 1029.7,683.3 1030.0,683.3 1030.3,681.5 1030.6,683.2 1030.9,682.7 1031.2,683.5 1031.5,682.7 1031.8,683.2 1032.1,684.0 1032.4,682.0 1032.7,683.1 1033.0,682.9 1033.3,682.5 1033.6,681.7 1033.9,682.5 1034.2,681.3 1034.5,682.3 1034.8,683.2 1035.1,681.2 1035.4,679.3 1035.7,680.3 1036.0,682.3 1036.3,681.2 1036.6,680.4 1036.9,683.4 1037.2,680.6 1037.5,681.8 1037.8,681.7 1038.1,682.6 1038.4,682.6 1038.7,679.7 1039.0,682.5 1039.3,683.1 1039.6,681.2 1039.9,682.9 1040.2,680.1 1040.5,683.7 1040.8,682.8 1041.1,680.4 1041.4,683.1 1041.7,682.8 1042.0,683.1 1042.3,683.7 1042.6,681.1 1042.9,683.1 1043.2,684.1 1043.5,682.7 1043.8,684.6 1044.1,683.8 1044.4,680.5 1044.7,684.3 1045.0,682.6 1045.3,682.8 1045.6,683.5 1045.9,683.0 1046.2,684.6 1046.5,685.7 1046.8,684.5 1047.1,684.5 1047.4,683.3 1047.7,683.3 1048.0,683.1 1048.3,683.9 1048.6,684.8 1048.9,685.3 1049.2,684.3 1049.5,683.0 1049.8,685.4 1050.1,683.3 1050.4,684.4 1050.7,684.0 1051.0,682.5 1051.3,681.3 1051.6,683.8 1051.9,683.5 1052.2,684.2 1052.5,684.6 1052.8,684.2 1053.1,683.1 1053.4,685.3 1053.7,683.9 1054.0,682.7 1054.3,683.7 1054.6,681.0 1054.9,684.6 1055.2,685.4 1055.5,684.3 1055.8,684.2 1056.1,682.8 1056.4,682.4 1056.7,681.7 1057.0,684.7 1057.3,683.1 1057.6,683.1 1057.9,684.4 1058.2,683.0 1058.5,683.3 1058.8,681.7 1059.1,682.3 1059.4,682.6 1059.7,682.9 1060.0,684.4 1060.3,685.3 1060.6,683.2 1060.9,682.0 1061.2,681.6 1061.5,682.7 1061.8,682.8 1062.1,680.4 1062.4,680.3 1062.7,681.3 1063.0,681.9 1063.3,681.4 1063.6,680.4 1063.9,679.8 1064.2,680.2 1064.5,679.0 1064.8,679.6 1065.1,680.6 1065.4,680.8 1065.7,680.0 1066.0,681.9 1066.3,680.0 1066.6,679.7 1066.9,680.2 1067.2,680.5 1067.5,678.5 1067.8,679.4 1068.1,679.8 1068.4,680.2 1068.7,681.3 1069.0,680.2 1069.3,678.8 1069.6,682.0 1069.9,682.3 1070.2,680.8 1070.5,680.2 1070.8,680.4 1071.1,680.5 1071.4,679.7 1071.7,683.4 1072.0,683.2 1072.3,681.1 1072.6,681.1 1072.9,680.2 1073.2,680.7 1073.5,680.5 1073.8,681.9 1074.1,682.4 1074.4,682.8 1074.7,683.4 1075.0,682.4 1075.3,681.1 1075.6,682.1 1075.9,682.7 1076.2,683.6 1076.5,680.8 1076.8,683.1 1077.1,681.9 1077.4,682.4 1077.7,681.7 1078.0,683.5 1078.3,682.1 1078.6,681.6 1078.9,683.3 1079.2,681.7 1079.5,682.5 1079.8,682.7 1080.1,682.0 1080.4,684.0 1080.7,683.1 1081.0,683.7 1081.3,683.2 1081.6,684.7 1081.9,682.3 1082.2,681.9 1082.5,683.2 1082.8,682.0 1083.1,684.6 1083.4,682.4 1083.7,684.9 1084.0,683.1 1084.3,683.1 1084.6,684.4 1084.9,682.3 1085.2,684.2 1085.5,680.4 1085.8,681.4 1086.1,682.9 1086.4,684.3 1086.7,682.9 1087.0,683.8 1087.3,683.1 1087.6,683.2 1087.9,683.2 1088.2,684.2 1088.5,683.1 1088.8,684.0 1089.1,682.8 1089.4,683.8 1089.7,682.3 1090.0,684.6 1090.3,683.2 1090.6,679.3 1090.9,683.1 1091.2,683.4 1091.5,682.1 1091.8,684.6 1092.1,684.3 1092.4,682.5 1092.7,682.7 1093.0,685.0 1093.3,684.1 1093.6,682.2 1093.9,684.2 1094.2,684.7 1094.5,684.1 1094.8,682.1 1095.1,683.1 1095.4,684.3 1095.7,685.3 1096.0,683.7 1096.3,685.1 1096.6,682.6 1096.9,684.0 1097.2,683.0 1097.5,683.8 1097.8,684.1 1098.1,684.0 1098.4,684.8 1098.7,683.9 1099.0,683.2 1099.3,685.8 1099.6,684.4 1099.9,684.2 1100.2,682.2 1100.5,682.7 1100.8,683.2 1101.1,683.1 1101.4,683.7 1101.7,682.4 1102.0,683.1 1102.3,685.0 1102.6,683.6 1102.9,682.9 1103.2,683.0 1103.5,683.2 1103.8,683.6 1104.1,683.5 1104.4,680.9 1104.7,682.1 1105.0,683.4 1105.3,682.2 1105.6,681.7 1105.9,683.5 1106.2,683.3 1106.5,683.5 1106.8,681.8 1107.1,682.6 1107.4,682.7 1107.7,682.8 1108.0,681.8 1108.3,682.9 1108.6,682.0 1108.9,684.6 1109.2,681.9 1109.5,682.6 1109.8,683.6"/>
</g>
<g class="ser" font-size="25.5" fill="#000" text-anchor="middle" stroke="#fff" stroke-width="0.3">
<text transform="translate(208.8,739.9) scale(1,1.04)">10</text>
<text transform="translate(359.0,739.9) scale(1,1.04)">20</text>
<text transform="translate(509.1,739.9) scale(1,1.04)">30</text>
<text transform="translate(659.3,739.9) scale(1,1.04)">40</text>
<text transform="translate(809.5,739.9) scale(1,1.04)">50</text>
<text transform="translate(959.6,739.9) scale(1,1.04)">60</text>
<text transform="translate(1109.8,739.9) scale(1,1.04)">70</text>
</g>
<text class="san" font-size="33" x="613.6" y="785.4" textLength="82.6" fill="#000" stroke="#000" stroke-width="0.4">2θ/(°)</text>
<text class="san" font-size="32" transform="translate(156.8,495.2) rotate(-90)" textLength="206.2" fill="#000" stroke="#000" stroke-width="0.4">Intensity (a.u.)</text>
<g class="ser" font-size="31" fill="#000">
<text x="234.8" y="306.6" font-size="31.6">F3</text>
<text x="239.2" y="457.6">F2</text>
<text x="234.2" y="641.6" textLength="30.6">F1</text>
</g>
<g class="sym" font-size="100" fill="#000">
<text transform="translate(291.88,292.60) scale(0.2361,0.2384)">♥</text>
<text transform="translate(313.27,279.30) scale(0.2361,0.2411)">♥</text>
<text transform="translate(365.07,294.40) scale(0.2361,0.2397)">♥</text>
<text transform="translate(409.27,274.60) scale(0.2361,0.2411)">♥</text>
<text transform="translate(484.77,276.90) scale(0.2361,0.2438)">♥</text>
<text transform="translate(519.67,125.10) scale(0.2361,0.2466)">♥</text>
<text transform="translate(614.58,300.10) scale(0.2361,0.2411)">♥</text>
<text transform="translate(640.77,312.80) scale(0.2361,0.2466)">♥</text>
<text transform="translate(716.08,305.40) scale(0.2361,0.2411)">♥</text>
<text transform="translate(829.77,291.60) scale(0.2361,0.2411)">♥</text>
<text transform="translate(969.77,322.80) scale(0.2361,0.2466)">♥</text>
<text transform="translate(1024.08,323.80) scale(0.2361,0.2466)">♥</text>
<text transform="translate(1065.88,322.80) scale(0.2361,0.2466)">♥</text>
<text transform="translate(292.88,460.50) scale(0.2361,0.2397)">♥</text>
<text transform="translate(317.07,451.80) scale(0.2361,0.2425)">♥</text>
<text transform="translate(368.07,460.00) scale(0.2361,0.2411)">♥</text>
<text transform="translate(408.18,449.00) scale(0.2361,0.2466)">♥</text>
<text transform="translate(483.88,446.40) scale(0.2361,0.2411)">♥</text>
<text transform="translate(520.17,359.00) scale(0.2361,0.2479)">♥</text>
<text transform="translate(613.38,464.30) scale(0.2361,0.2411)">♥</text>
<text transform="translate(716.08,466.60) scale(0.2361,0.2411)">♥</text>
<text transform="translate(830.27,457.10) scale(0.2361,0.2384)">♥</text>
<text transform="translate(969.77,477.60) scale(0.2361,0.2466)">♥</text>
<text transform="translate(1028.38,481.70) scale(0.2361,0.2411)">♥</text>
<text transform="translate(448.42,309.80) scale(0.2862,0.2472)">♠</text>
<text transform="translate(450.12,468.50) scale(0.2862,0.2500)">♠</text>
<text transform="translate(550.81,313.90) scale(0.2643,0.2514)">♦</text>
<text transform="translate(549.71,449.60) scale(0.2643,0.2583)">♦</text>
<text transform="translate(534.51,625.60) scale(0.2643,0.2597)">♦</text>
<text transform="translate(548.71,518.00) scale(0.2643,0.2583)">♦</text>
<text transform="translate(659.61,647.60) scale(0.2643,0.2528)">♦</text>
<text transform="translate(677.41,656.50) scale(0.2643,0.2556)">♦</text>
<text transform="translate(703.81,658.30) scale(0.2643,0.2542)">♦</text>
<text transform="translate(723.21,663.10) scale(0.2643,0.2556)">♦</text>
<text transform="translate(761.51,629.40) scale(0.2643,0.2597)">♦</text>
<text transform="translate(776.21,655.10) scale(0.2643,0.2514)">♦</text>
<text transform="translate(278.31,652.70) scale(0.2806,0.2521)">♣</text>
<text transform="translate(392.01,649.80) scale(0.2806,0.2589)">♣</text>
<text transform="translate(446.01,644.70) scale(0.2806,0.2589)">♣</text>
<text transform="translate(518.11,651.70) scale(0.2806,0.2589)">♣</text>
<text transform="translate(950.91,655.90) scale(0.2806,0.2562)">♣</text>
<text transform="translate(618.83,180.10) scale(0.2417,0.2438)">♥</text>
<text transform="translate(961.62,179.70) scale(0.2862,0.2569)">♠</text>
<text transform="translate(617.67,232.10) scale(0.2696,0.2597)">♦</text>
<text transform="translate(859.05,232.10) scale(0.2866,0.2562)">♣</text>
</g>
<g class="ser" font-size="33" fill="#000">
<text x="643.1" y="180.1" textLength="310.3">–Ca<tspan font-size="21" dy="8.1">2</tspan><tspan dy="-8.1">(Mg,Al)(Si,Al)</tspan><tspan font-size="21" dy="8.1">2</tspan><tspan dy="-8.1">O</tspan><tspan font-size="21" dy="8.1">7</tspan></text>
<text x="987.4" y="180.1" textLength="73.2">-SiO<tspan font-size="21" dy="8.1">2</tspan></text>
<text x="642.0" y="232.1" textLength="201.0">-Ca<tspan font-size="21" dy="8.1">3</tspan><tspan dy="-8.1">Mg(SiO</tspan><tspan font-size="21" dy="8.1">4</tspan><tspan dy="-8.1">)</tspan><tspan font-size="21" dy="8.1">2</tspan></text>
<text x="884.8" y="232.1" textLength="127.4">–Ca<tspan font-size="21" dy="8.1">2</tspan><tspan dy="-8.1">SiO</tspan><tspan font-size="21" dy="8.1">4</tspan></text>
</g>
</svg></body></html>
